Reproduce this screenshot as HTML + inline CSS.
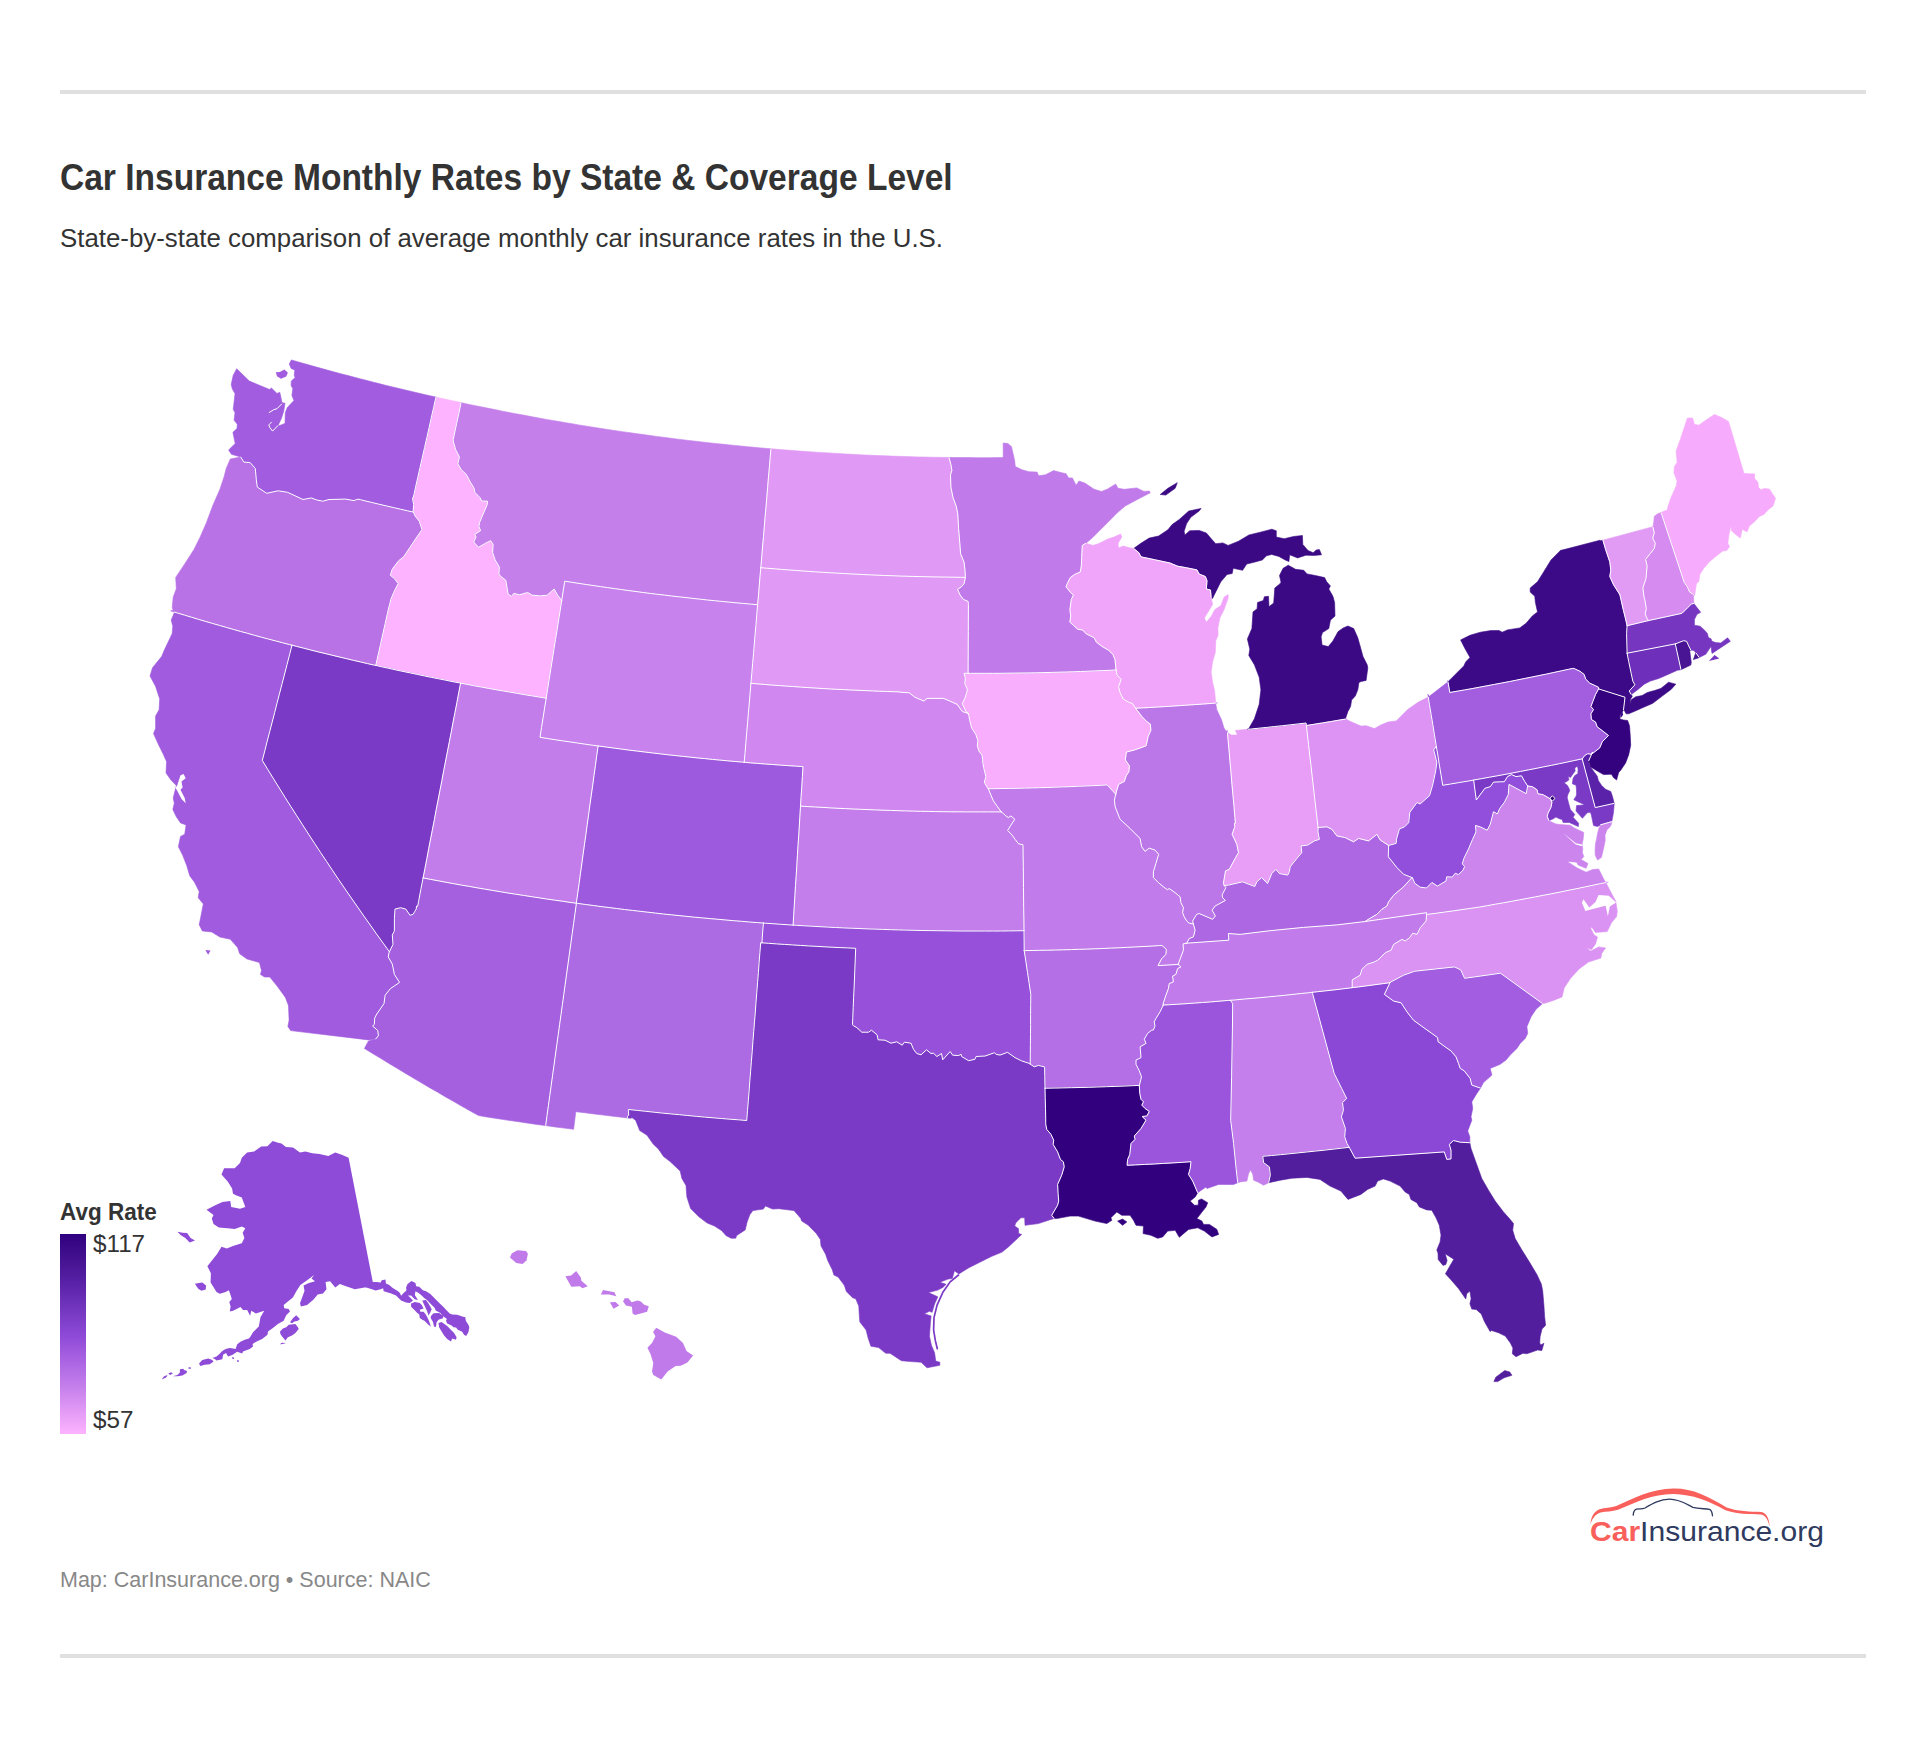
<!DOCTYPE html>
<html lang="en"><head><meta charset="utf-8"><title>Car Insurance Monthly Rates by State &amp; Coverage Level</title>
<style>
html,body{margin:0;padding:0;background:#fff;}
body{width:1926px;height:1738px;position:relative;overflow:hidden;font-family:"Liberation Sans",Arial,sans-serif;color:#333;}
.abs{position:absolute;white-space:nowrap;}
.rule{position:absolute;left:60px;width:1806px;height:4px;background:#e0e0e0;}
#title{left:60px;top:155.5px;font-size:36px;line-height:44px;font-weight:700;color:#333;transform:scaleX(0.9315);transform-origin:0 0;}
#sub{left:60px;top:220.5px;font-size:26px;line-height:34px;color:#333;transform:scaleX(0.9935);transform-origin:0 0;}
#legt{left:60px;top:1198px;font-size:23.5px;line-height:28px;font-weight:700;color:#333;transform:scaleX(0.957);transform-origin:0 0;}
.legl{font-size:23.5px;line-height:28px;color:#333;transform:scaleX(1.03);transform-origin:0 0;}
#foot{left:60px;top:1566px;font-size:21.5px;line-height:28px;color:#888;}
#logot{left:1590px;top:1514.2px;font-size:27.5px;line-height:36px;color:#2f3a5f;transform:scaleX(1.093);transform-origin:0 0;}
#logot b{color:#f9605c;font-weight:700;}
svg{position:absolute;left:0;top:0;}
</style></head><body>
<div class="rule" style="top:90px"></div>
<div class="abs" id="title">Car Insurance Monthly Rates by State &amp; Coverage Level</div>
<div class="abs" id="sub">State-by-state comparison of average monthly car insurance rates in the U.S.</div>
<svg width="1926" height="1738" viewBox="0 0 1926 1738">
<defs><linearGradient id="lg" x1="0" y1="0" x2="0" y2="1">
<stop offset="0" stop-color="#2f0080"/><stop offset="0.125" stop-color="#441290"/><stop offset="0.25" stop-color="#5a22a8"/>
<stop offset="0.375" stop-color="#7337bf"/><stop offset="0.5" stop-color="#8c48d6"/><stop offset="0.625" stop-color="#a862e2"/>
<stop offset="0.75" stop-color="#c27cea"/><stop offset="0.875" stop-color="#df98f4"/><stop offset="1" stop-color="#fdb3ff"/>
</linearGradient></defs>
<g><path d="M1312.3,992.3L1309.4,992.7L1301.2,993.5L1293.0,994.4L1284.8,995.3L1276.5,996.1L1268.3,996.9L1260.1,997.7L1251.9,998.4L1243.6,999.1L1235.4,999.9L1230.4,1000.3L1232.7,1003.7L1232.4,1030.1L1231.6,1076.8L1230.7,1120.2L1233.6,1143.5L1236.1,1168.5L1237.7,1182.7L1240.2,1181.9L1246.9,1181.1L1248.6,1173.5L1250.6,1169.9L1252.8,1174.4L1253.6,1180.2L1257.8,1181.9L1263.6,1185.2L1268.6,1182.7L1270.3,1175.2L1269.4,1166.9L1263.6,1162.7L1262.8,1156.5L1262.8,1156.3L1271.6,1155.5L1280.3,1154.7L1289.1,1153.8L1297.9,1152.9L1306.6,1152.0L1315.4,1151.1L1324.1,1150.2L1332.9,1149.2L1341.6,1148.2L1349.2,1147.3L1347.0,1143.5L1344.7,1136.8L1345.4,1128.5L1341.4,1116.8L1343.4,1110.2L1342.5,1102.6L1346.7,1098.5L1341.7,1088.5L1334.2,1073.4L1312.5,993.4L1312.3,992.5Z" fill="#c47fec" stroke="#c47fec" stroke-width="0.6"/>
<path d="M576.3,903.2L570.0,902.4L562.3,901.2L554.5,900.1L546.7,899.0L539.0,897.8L531.2,896.6L523.5,895.4L515.7,894.2L508.0,893.0L500.2,891.7L492.5,890.4L484.7,889.1L477.0,887.8L469.3,886.4L461.5,885.1L453.8,883.7L446.1,882.3L438.4,880.8L430.7,879.4L423.1,877.9L423.1,877.9L420.8,889.6L418.6,901.3L417.7,906.2L416.6,906.0L416.2,909.1L414.5,911.9L413.1,914.3L410.0,915.3L405.8,909.1L400.6,907.7L395.0,909.1L394.4,918.5L394.4,930.9L392.3,935.1L393.0,944.4L389.4,951.8L389.3,952.0L389.2,952.1L388.2,956.9L392.3,964.1L394.4,974.5L399.6,982.4L390.3,988.7L385.1,995.3L384.0,1003.6L376.8,1014.0L374.7,1018.1L374.3,1024.4L372.6,1026.0L377.8,1030.6L378.4,1035.8L375.7,1038.9L368.5,1041.0L365.3,1046.8L364.5,1048.5L372.5,1053.4L380.6,1058.3L388.6,1063.2L396.7,1068.1L404.8,1072.9L412.9,1077.8L421.0,1082.6L429.2,1087.4L437.4,1092.1L445.6,1096.9L453.8,1101.6L462.0,1106.3L470.3,1111.0L478.6,1115.6L487.0,1117.0L495.3,1118.3L503.7,1119.6L512.1,1120.8L520.5,1122.0L528.8,1123.3L537.2,1124.5L545.6,1125.6L547.0,1115.6L548.4,1105.5L549.8,1095.4L551.2,1085.3L552.6,1075.2L554.0,1065.1L555.4,1055.0L556.8,1044.9L558.2,1034.8L559.6,1024.7L561.0,1014.6L562.4,1004.5L563.8,994.4L565.2,984.3L566.6,974.1L568.0,964.0L569.4,953.9L570.8,943.8L572.2,933.6L573.6,923.5L575.0,913.4L576.4,903.2L576.4,903.2L576.3,903.2Z" fill="#a560e0" stroke="#a560e0" stroke-width="0.6"/>
<path d="M1163.1,1005.1L1163.4,1002.8L1165.9,995.3L1168.4,988.6L1169.2,983.6L1173.4,981.9L1172.6,976.1L1175.9,974.4L1177.6,968.6L1180.9,966.9L1178.1,964.4L1158.0,965.6L1161.7,958.6L1165.9,954.4L1166.4,949.4L1163.9,947.1L1162.0,945.5L1159.7,945.6L1157.7,945.7L1149.9,946.2L1142.0,946.6L1134.2,947.0L1126.3,947.4L1118.5,947.8L1110.6,948.1L1102.8,948.5L1094.9,948.8L1087.1,949.1L1079.2,949.3L1071.4,949.6L1063.5,949.8L1055.7,950.0L1047.8,950.2L1039.9,950.3L1032.1,950.5L1024.2,950.6L1025.9,961.6L1027.5,972.6L1029.2,983.6L1030.8,994.5L1030.7,1004.6L1030.6,1014.6L1030.6,1024.6L1030.5,1034.6L1030.4,1044.7L1030.3,1054.7L1030.2,1064.1L1030.5,1064.3L1034.2,1066.8L1038.4,1065.4L1044.2,1066.8L1044.4,1066.8L1044.6,1066.9L1044.6,1067.1L1044.8,1076.6L1045.0,1087.1L1045.0,1088.2L1053.8,1088.1L1062.6,1087.9L1071.3,1087.7L1080.1,1087.5L1088.9,1087.3L1097.6,1087.0L1106.4,1086.7L1115.1,1086.4L1123.9,1086.1L1132.7,1085.7L1139.3,1085.4L1139.5,1084.8L1141.5,1076.8L1139.3,1070.9L1136.0,1064.3L1136.0,1060.1L1141.0,1057.6L1140.1,1046.8L1146.0,1043.4L1144.3,1039.2L1147.6,1033.4L1151.8,1030.1L1153.4,1030.0L1155.0,1026.1L1154.2,1021.9L1155.9,1018.6L1160.0,1011.9L1162.9,1006.0L1163.0,1005.6Z" fill="#b56fe6" stroke="#b56fe6" stroke-width="0.6"/>
<path d="M292.0,645.2L289.7,644.6L282.6,642.8L275.6,640.9L268.5,639.1L261.5,637.2L254.5,635.3L247.5,633.3L240.4,631.4L233.4,629.4L226.4,627.4L219.4,625.4L212.4,623.4L205.4,621.4L198.4,619.3L191.5,617.2L184.5,615.1L177.5,613.0L174.0,611.9L174.3,612.7L171.2,620.0L172.8,626.2L172.2,633.5L163.9,651.1L161.8,656.3L152.5,667.8L150.0,676.1L155.6,686.4L159.7,698.9L159.1,709.7L155.6,716.0L155.6,728.4L153.5,733.6L158.7,745.0L162.8,753.3L166.6,761.7L166.0,773.1L171.2,780.3L176.3,785.5L173.2,798.0L174.3,803.2L172.8,809.4L176.3,816.7L180.5,822.9L186.1,825.0L184.7,834.3L180.5,836.4L178.4,846.8L182.6,855.1L186.7,865.5L189.8,875.9L194.4,882.1L199.2,891.5L198.2,897.7L203.3,903.9L201.3,914.3L199.2,924.7L202.3,930.9L211.7,932.0L220.0,937.1L230.3,939.2L237.6,947.5L239.7,953.8L247.0,959.0L259.4,962.5L261.5,970.4L260.5,974.5L264.6,977.0L269.8,977.0L277.1,986.0L285.4,997.4L288.5,1005.7L289.1,1020.2L287.9,1026.4L290.6,1030.6L368.5,1039.9L375.7,1038.9L378.4,1035.8L377.8,1030.6L372.6,1026.0L374.3,1024.4L374.7,1018.1L376.8,1014.0L384.0,1003.6L385.1,995.3L390.3,988.7L399.6,982.4L394.4,974.5L392.3,964.1L388.2,956.9L389.2,952.1L389.3,952.0L389.4,951.8L383.2,943.2L376.7,934.2L370.3,925.1L363.9,916.1L357.6,907.0L351.3,898.0L345.0,888.9L338.8,879.8L332.7,870.7L326.6,861.5L320.5,852.4L314.5,843.3L308.5,834.1L302.6,824.9L296.7,815.7L290.8,806.5L285.0,797.3L279.3,788.1L273.6,778.9L267.9,769.7L262.3,760.4L264.8,750.8L267.2,741.2L269.7,731.6L272.2,722.0L274.7,712.4L277.1,702.8L279.6,693.2L282.1,683.6L284.6,674.0L287.1,664.4L289.5,654.8L292.0,645.2Z" fill="#a05bde" stroke="#a05bde" stroke-width="0.6"/>
<path d="M744.2,762.3L742.6,762.1L735.1,761.5L727.5,760.8L720.0,760.1L712.5,759.4L704.9,758.6L697.4,757.9L689.9,757.1L682.4,756.3L674.9,755.5L667.3,754.7L659.8,753.8L652.3,752.9L644.8,752.0L637.3,751.1L629.8,750.2L622.3,749.2L614.8,748.2L607.3,747.2L599.8,746.2L598.1,746.0L598.1,746.0L596.7,755.8L595.4,765.6L594.0,775.4L592.7,785.3L591.3,795.1L589.9,804.9L588.6,814.7L587.2,824.6L585.9,834.4L584.5,844.2L583.1,854.1L581.8,863.9L580.4,873.7L579.1,883.6L577.7,893.4L576.3,903.2L576.3,903.2L576.4,903.2L577.8,903.4L585.6,904.5L593.4,905.5L601.2,906.6L608.9,907.5L616.7,908.5L624.5,909.5L632.3,910.4L640.1,911.3L647.9,912.2L655.7,913.1L663.5,914.0L671.3,914.8L679.1,915.6L686.9,916.4L694.7,917.2L702.6,917.9L710.4,918.6L718.2,919.3L726.0,920.0L733.8,920.7L741.6,921.3L749.5,922.0L757.3,922.6L763.4,923.0L765.1,923.2L772.9,923.7L780.8,924.3L788.6,924.8L793.1,925.1L793.7,915.2L794.3,905.3L794.9,895.4L795.5,885.4L796.2,875.5L796.8,865.6L797.4,855.7L798.0,845.8L798.7,835.9L799.3,826.0L799.9,816.1L800.5,806.2L800.5,806.1L800.5,806.1L801.1,796.3L801.8,786.4L802.4,776.5L803.0,766.6L802.9,766.6L795.4,766.1L787.9,765.6L780.3,765.1L772.8,764.5L765.2,764.0L757.7,763.4L750.1,762.8L744.2,762.3Z" fill="#9e5ade" stroke="#9e5ade" stroke-width="0.6"/>
<path d="M1675.3,643.9L1627.1,653.2L1628.7,661.5L1631.3,673.9L1632.8,681.1L1634.9,684.8L1629.2,691.0L1631.3,694.6L1638.0,689.4L1644.2,684.2L1650.4,681.1L1658.7,678.5L1668.0,674.4L1677.3,670.3L1681.0,669.7Z" fill="#6e30ba" stroke="#6e30ba" stroke-width="0.6"/>
<path d="M1582.4,758.8L1582.2,759.0L1595.2,807.6L1614.2,803.4L1612.5,796.6L1610.7,791.4L1605.6,789.3L1601.4,785.2L1598.3,780.4L1597.3,776.2L1590.7,767.2L1589.3,764.1L1588.8,760.6L1592.4,752.5L1591.3,754.3L1587.7,753.7L1584.6,755.6L1582.4,758.7Z" fill="#5a22a8" stroke="#5a22a8" stroke-width="0.6"/>
<path d="M1262.8,1156.5L1263.6,1162.7L1269.4,1166.9L1270.3,1175.2L1268.6,1182.7L1280.3,1180.2L1292.0,1178.2L1307.0,1177.4L1320.0,1179.4L1330.0,1186.1L1340.9,1191.1L1348.0,1199.4L1360.9,1194.4L1367.6,1189.4L1375.1,1186.1L1377.6,1181.1L1383.4,1178.9L1390.1,1181.1L1400.1,1186.1L1405.1,1191.9L1409.3,1194.4L1410.9,1199.4L1416.8,1202.7L1419.3,1206.9L1426.8,1209.9L1431.8,1210.3L1436.0,1217.8L1439.3,1225.3L1441.0,1235.3L1440.1,1241.9L1436.8,1249.9L1438.0,1253.2L1438.2,1259.5L1443.0,1265.4L1445.8,1264.6L1447.1,1260.5L1445.2,1253.8L1453.8,1259.2L1445.4,1273.8L1450.9,1279.7L1458.5,1288.6L1465.8,1299.0L1466.7,1293.7L1469.9,1291.1L1471.1,1298.7L1469.9,1303.8L1471.8,1309.1L1476.2,1309.5L1481.3,1313.9L1484.4,1321.5L1490.1,1331.6L1491.4,1330.4L1498.4,1332.7L1505.3,1336.1L1510.4,1343.0L1512.9,1348.1L1512.3,1353.8L1516.1,1356.7L1523.0,1353.2L1526.8,1353.8L1537.6,1350.0L1541.8,1350.6L1543.9,1343.3L1540.8,1344.9L1539.7,1343.0L1540.1,1336.7L1542.0,1329.1L1545.6,1325.3L1544.6,1316.5L1543.9,1305.1L1542.7,1291.1L1541.4,1284.2L1537.0,1274.7L1529.4,1262.0L1521.9,1250.0L1515.2,1238.6L1512.7,1230.3L1513.5,1223.6L1509.4,1218.6L1503.5,1211.9L1495.2,1201.1L1488.5,1190.2L1481.8,1178.6L1475.2,1160.2L1471.0,1148.5L1469.8,1142.7L1460.2,1142.2L1453.5,1140.5L1449.3,1144.4L1451.0,1150.2L1451.0,1158.9L1446.8,1159.4L1444.3,1151.9L1355.1,1158.2L1349.7,1148.2L1349.5,1147.7L1349.2,1147.3L1341.6,1148.2L1332.9,1149.2L1324.1,1150.2L1315.4,1151.1L1306.6,1152.0L1297.9,1152.9L1289.1,1153.8L1280.3,1154.7L1271.6,1155.5L1262.8,1156.3ZM1497.7,1381.6L1504.1,1377.8L1511.9,1375.3L1509.7,1371.9L1504.7,1370.6L1495.8,1377.2L1493.9,1381.6Z" fill="#521e9e" stroke="#521e9e" stroke-width="0.6"/>
<path d="M1352.2,987.7L1350.4,987.9L1342.2,988.9L1334.0,989.9L1325.8,990.8L1317.6,991.7L1312.3,992.3L1312.3,992.5L1312.5,993.4L1334.2,1073.4L1341.7,1088.5L1346.7,1098.5L1342.5,1102.6L1343.4,1110.2L1341.4,1116.8L1345.4,1128.5L1344.7,1136.8L1347.0,1143.5L1349.2,1147.3L1349.5,1147.7L1349.7,1148.2L1355.1,1158.2L1444.3,1151.9L1446.8,1159.4L1451.0,1158.9L1451.0,1150.2L1449.3,1144.4L1453.5,1140.5L1460.2,1142.2L1469.8,1142.7L1469.8,1136.8L1467.7,1131.0L1471.8,1120.2L1471.0,1116.8L1472.7,1108.5L1471.8,1101.8L1476.8,1093.5L1480.5,1088.1L1471.8,1085.1L1470.2,1078.5L1464.3,1070.9L1460.2,1068.4L1458.5,1063.4L1456.0,1056.8L1451.0,1050.9L1445.1,1046.8L1438.1,1041.7L1437.6,1037.6L1431.8,1033.4L1427.0,1030.0L1413.6,1020.3L1407.0,1011.9L1401.1,1002.8L1393.6,1001.1L1384.4,994.4L1390.0,982.7L1383.2,983.6L1375.0,984.7L1366.8,985.8L1358.6,986.9L1352.2,987.6Z" fill="#8b47d5" stroke="#8b47d5" stroke-width="0.6"/>
<path d="M453.2,441.0L453.2,439.7L453.2,439.7L454.4,434.0L456.6,423.5L458.9,413.1L461.1,402.6L461.1,402.6L456.4,401.6L450.0,400.2L443.6,398.8L437.2,397.4L436.0,397.1L436.0,397.1L433.7,407.2L431.4,417.2L429.2,427.3L426.9,437.4L424.6,447.4L422.3,457.5L420.0,467.6L417.7,477.8L415.4,487.9L414.2,493.5L413.1,498.0L412.6,497.9L412.5,498.5L413.7,504.7L413.1,511.6L413.4,512.1L413.8,513.2L415.2,516.1L419.3,521.3L422.0,529.6L416.2,538.0L410.0,547.3L403.8,556.6L398.6,560.8L392.3,569.1L390.3,575.3L394.4,578.5L398.2,583.6L394.4,590.9L393.6,592.7L390.9,599.2L389.2,606.5L389.0,606.4L387.5,613.1L385.2,623.5L382.8,634.0L380.5,644.5L378.1,655.0L375.8,665.4L381.7,666.8L388.8,668.3L395.9,669.9L403.0,671.4L410.2,672.9L417.3,674.4L424.4,675.9L431.6,677.4L438.7,678.8L445.8,680.2L453.0,681.7L460.1,683.0L460.6,683.1L467.3,684.4L474.4,685.8L481.6,687.1L488.8,688.4L495.9,689.7L503.1,690.9L510.3,692.2L517.5,693.4L524.6,694.7L531.8,695.8L539.0,697.0L546.2,698.2L547.7,688.4L549.3,678.6L550.8,668.9L552.4,659.1L553.9,649.3L555.5,639.6L557.1,629.8L558.6,620.1L560.2,610.3L561.7,600.6L561.7,600.5L561.7,600.5L557.6,595.2L554.1,589.0L547.2,595.2L540.3,595.9L532.2,595.2L527.6,592.5L519.6,594.8L513.8,593.4L511.5,596.4L508.1,594.1L505.8,580.3L500.0,575.7L498.9,573.9L499.3,567.0L495.1,559.8L492.6,552.5L493.1,544.2L490.6,540.7L485.8,543.1L478.5,547.3L473.7,542.1L476.0,536.9L474.8,534.4L480.6,530.7L478.9,526.5L479.6,522.4L482.7,515.1L487.2,504.7L487.5,501.2L481.6,501.0L480.2,497.9L474.8,492.3L474.0,488.1L470.2,481.9L466.1,474.2L461.5,470.0L457.8,463.8L459.4,457.0L455.7,449.7L454.0,444.0Z" fill="#fdb3ff" stroke="#fdb3ff" stroke-width="0.6"/>
<path d="M1217.4,702.9L1215.7,703.1L1209.9,703.5L1202.4,704.1L1194.9,704.6L1187.3,705.1L1179.8,705.6L1172.3,706.1L1164.8,706.6L1157.2,707.0L1149.7,707.5L1142.2,707.9L1135.6,708.2L1135.7,708.4L1142.0,716.7L1147.1,721.9L1150.3,724.0L1150.9,730.2L1148.2,736.4L1146.1,745.8L1134.7,749.9L1126.4,752.0L1125.3,759.9L1129.4,765.9L1128.9,771.7L1126.1,775.9L1124.4,781.4L1118.6,784.3L1116.9,790.1L1115.7,794.3L1114.4,800.1L1115.2,806.8L1119.4,817.6L1120.0,819.2L1130.0,828.4L1140.0,838.4L1141.7,846.8L1145.0,851.4L1149.2,848.1L1155.0,850.1L1158.7,854.3L1155.9,863.5L1153.4,871.8L1153.4,877.6L1158.4,882.6L1163.4,886.8L1167.5,889.8L1169.2,888.5L1175.1,892.7L1180.1,896.8L1180.9,902.7L1183.4,907.7L1182.6,912.7L1184.2,916.8L1186.7,921.0L1189.2,923.2L1193.4,924.0L1192.6,921.0L1196.7,914.3L1199.2,913.5L1212.6,919.3L1215.4,916.0L1212.1,910.2L1215.1,906.0L1225.4,900.5L1222.6,897.7L1222.1,894.8L1225.9,887.6L1224.3,885.5L1223.4,883.5L1225.1,873.5L1225.4,871.0L1229.3,869.3L1235.1,858.5L1238.5,852.6L1236.8,844.3L1232.1,834.3L1234.4,827.8L1234.8,826.8L1234.4,823.4L1235.4,823.3L1234.9,817.5L1234.0,806.6L1233.0,795.7L1232.0,784.8L1231.1,773.9L1230.1,763.0L1229.2,752.1L1228.2,741.3L1227.5,732.6L1227.3,730.4L1226.2,731.2L1224.0,728.1L1221.5,719.8L1216.7,709.4L1215.7,703.2L1215.7,703.1Z" fill="#bb76e8" stroke="#bb76e8" stroke-width="0.6"/>
<path d="M1235.3,730.5L1237.4,734.5L1236.3,735.0L1231.2,735.0L1227.5,732.6L1228.2,741.3L1229.2,752.1L1230.1,763.0L1231.1,773.9L1232.0,784.8L1233.0,795.7L1234.0,806.6L1234.9,817.5L1235.4,823.3L1234.4,823.4L1234.8,826.8L1234.4,827.8L1232.1,834.3L1236.8,844.3L1238.5,852.6L1235.1,858.5L1229.3,869.3L1225.4,871.0L1225.1,873.5L1223.4,883.5L1224.3,885.5L1228.4,885.1L1242.6,881.8L1254.8,886.5L1256.8,881.8L1261.5,877.6L1267.6,883.5L1271.8,873.5L1276.0,869.3L1279.3,873.5L1287.7,875.1L1289.3,871.8L1290.2,866.8L1296.8,858.5L1301.8,852.6L1301.0,845.9L1307.7,845.1L1314.4,840.9L1319.4,839.3L1318.5,835.1L1317.7,829.9L1318.3,829.8L1318.0,827.5L1317.1,819.1L1315.8,808.4L1314.6,797.7L1313.4,787.0L1312.2,776.4L1311.0,765.7L1309.7,755.0L1308.5,744.3L1307.3,733.7L1306.4,725.5L1306.1,723.0L1298.2,723.9L1290.4,724.8L1282.5,725.7L1274.6,726.5L1266.8,727.4L1258.9,728.2L1251.1,729.0L1247.4,729.3L1243.2,729.7Z" fill="#e89ef7" stroke="#e89ef7" stroke-width="0.6"/>
<path d="M968.1,673.3L964.0,673.3L964.0,673.3L965.4,678.3L964.8,683.5L967.5,689.7L965.4,697.0L962.3,703.6L966.0,711.5L968.5,713.6L969.6,719.8L971.7,728.1L975.8,734.4L977.9,740.6L977.3,745.8L978.9,751.0L982.0,755.1L982.7,759.9L982.9,763.4L984.3,770.1L985.9,776.7L984.3,782.1L986.8,786.8L987.8,788.0L988.3,788.7L994.4,788.7L1001.9,788.5L1009.5,788.4L1017.0,788.3L1024.6,788.1L1032.1,787.9L1039.7,787.7L1047.2,787.5L1054.8,787.2L1062.3,786.9L1069.9,786.7L1077.4,786.3L1084.9,786.0L1092.5,785.7L1100.0,785.3L1106.9,784.9L1106.9,785.1L1107.4,785.3L1107.7,785.4L1111.9,790.1L1115.7,794.3L1116.9,790.1L1118.6,784.3L1124.4,781.4L1126.1,775.9L1128.9,771.7L1129.4,765.9L1125.3,759.9L1126.4,752.0L1134.7,749.9L1146.1,745.8L1148.2,736.4L1150.9,730.2L1150.3,724.0L1147.1,721.9L1142.0,716.7L1135.7,708.4L1135.6,708.2L1135.3,707.8L1132.6,703.6L1128.5,702.2L1123.3,699.1L1120.1,692.8L1118.5,686.6L1121.2,679.3L1117.0,675.2L1116.1,670.1L1116.1,669.9L1109.8,670.3L1102.5,670.6L1095.2,670.9L1087.9,671.2L1080.5,671.5L1073.2,671.8L1065.9,672.0L1058.6,672.2L1051.2,672.4L1043.9,672.6L1036.6,672.8L1029.3,672.9L1021.9,673.0L1014.6,673.1L1007.3,673.2L1000.0,673.3L992.6,673.3L985.3,673.3L978.0,673.3L970.7,673.3L968.1,673.3Z" fill="#f8adfd" stroke="#f8adfd" stroke-width="0.6"/>
<path d="M793.1,925.1L793.1,925.1L796.4,925.3L804.3,925.8L812.1,926.2L820.0,926.7L827.8,927.1L835.6,927.5L843.5,927.9L851.3,928.2L859.2,928.5L867.0,928.9L874.8,929.1L882.7,929.4L890.5,929.7L898.4,929.9L906.2,930.1L914.1,930.3L921.9,930.5L929.8,930.6L937.6,930.7L945.5,930.8L953.3,930.9L961.2,931.0L969.0,931.0L976.9,931.0L984.7,931.0L992.5,931.0L1000.4,931.0L1008.2,930.9L1016.1,930.8L1023.9,930.7L1024.0,930.7L1024.0,929.6L1023.9,919.0L1023.7,908.5L1023.6,898.0L1023.5,887.5L1023.4,876.9L1023.3,866.4L1023.1,855.9L1023.0,845.5L1023.0,845.4L1023.3,845.0L1023.1,844.8L1018.5,843.8L1015.1,839.3L1011.4,834.3L1007.6,830.5L1010.9,825.1L1014.8,819.3L1010.9,815.9L1008.4,817.6L1005.9,815.9L1002.5,812.8L1001.4,811.9L995.8,811.9L988.3,811.9L980.8,811.9L973.2,811.9L965.7,811.9L958.2,811.8L950.7,811.8L943.2,811.7L935.7,811.6L928.1,811.4L920.6,811.3L913.1,811.1L905.6,810.9L898.1,810.7L890.6,810.4L883.0,810.2L875.5,809.9L868.0,809.6L860.5,809.3L853.0,809.0L845.5,808.6L838.0,808.3L830.5,807.9L823.0,807.4L815.5,807.0L808.0,806.6L800.5,806.1L800.5,806.2L799.9,816.1L799.3,826.0L798.7,835.9L798.0,845.8L797.4,855.7L796.8,865.6L796.2,875.5L795.5,885.4L794.9,895.4L794.3,905.3L793.7,915.2Z" fill="#c47eec" stroke="#c47eec" stroke-width="0.6"/>
<path d="M1318.0,827.5L1318.3,829.8L1317.7,829.9L1318.5,835.1L1319.4,839.3L1314.4,840.9L1307.7,845.1L1301.0,845.9L1301.8,852.6L1296.8,858.5L1290.2,866.8L1289.3,871.8L1287.7,875.1L1279.3,873.5L1276.0,869.3L1271.8,873.5L1267.6,883.5L1261.5,877.6L1256.8,881.8L1254.8,886.5L1242.6,881.8L1228.4,885.1L1224.3,885.5L1225.9,887.6L1222.1,894.8L1222.6,897.7L1225.4,900.5L1215.1,906.0L1212.1,910.2L1215.4,916.0L1212.6,919.3L1199.2,913.5L1196.7,914.3L1192.6,921.0L1193.4,924.0L1195.1,930.2L1193.4,936.9L1189.2,938.5L1186.7,943.2L1228.8,940.2L1228.4,933.5L1240.1,934.4L1270.2,930.7L1303.5,927.4L1336.9,924.9L1365.2,921.5L1366.9,920.2L1376.9,914.3L1381.9,909.3L1386.9,906.0L1388.6,901.8L1393.6,895.2L1403.6,886.8L1412.0,877.6L1403.6,874.3L1396.9,867.6L1388.3,856.8L1388.6,845.4L1380.3,840.1L1376.9,834.3L1368.6,840.9L1358.6,838.4L1353.6,841.8L1345.2,837.6L1336.9,835.9L1331.9,829.3L1326.9,826.8Z" fill="#ad67e2" stroke="#ad67e2" stroke-width="0.6"/>
<path d="M1045.2,1097.7L1045.5,1108.2L1045.7,1118.8L1045.7,1122.7L1045.8,1124.7L1046.7,1129.1L1046.7,1129.3L1050.9,1134.3L1053.7,1140.2L1053.1,1144.4L1057.6,1151.9L1060.4,1159.4L1063.4,1161.9L1064.2,1166.9L1061.7,1175.2L1057.6,1184.4L1058.1,1193.6L1058.7,1201.1L1057.6,1205.2L1051.7,1215.3L1054.2,1218.6L1056.7,1218.6L1070.1,1216.1L1078.4,1216.1L1086.8,1218.6L1095.1,1221.1L1106.8,1223.6L1111.8,1220.3L1110.9,1217.8L1116.8,1211.9L1121.8,1215.3L1130.1,1215.3L1133.5,1220.3L1136.0,1225.3L1143.5,1226.1L1143.1,1233.6L1151.0,1235.3L1157.7,1238.3L1162.7,1236.9L1167.7,1231.1L1175.2,1230.3L1179.3,1237.3L1188.5,1229.4L1197.7,1227.8L1204.4,1231.1L1211.9,1236.9L1218.6,1234.4L1216.9,1229.4L1209.4,1224.4L1203.5,1224.4L1201.9,1221.1L1196.9,1218.6L1202.7,1211.1L1206.0,1206.9L1207.7,1202.7L1201.5,1198.9L1198.5,1200.2L1198.2,1205.2L1194.4,1205.2L1190.2,1201.1L1195.2,1196.9L1197.7,1192.7L1195.2,1186.9L1192.7,1181.1L1188.5,1174.4L1190.2,1168.5L1191.0,1161.7L1182.4,1162.3L1173.0,1162.9L1163.6,1163.4L1154.2,1164.0L1144.8,1164.4L1135.4,1164.9L1127.1,1165.3L1127.1,1165.2L1127.6,1159.4L1129.8,1154.4L1131.0,1143.5L1135.1,1139.3L1134.3,1136.0L1141.0,1128.5L1146.0,1120.2L1142.1,1116.5L1146.8,1116.0L1149.3,1111.5L1145.1,1108.5L1141.8,1105.1L1143.5,1101.8L1141.0,1099.3L1139.8,1093.5L1139.3,1085.5L1139.3,1085.4L1132.7,1085.7L1123.9,1086.1L1115.1,1086.4L1106.4,1086.7L1097.6,1087.0L1088.9,1087.3L1080.1,1087.5L1071.3,1087.7L1062.6,1087.9L1053.8,1088.1L1045.0,1088.2ZM1126.8,1221.9L1122.6,1219.1L1117.6,1221.1L1122.6,1225.3Z" fill="#32007e" stroke="#32007e" stroke-width="0.6"/>
<path d="M1694.7,595.1L1695.7,588.8L1696.4,583.7L1698.8,581.6L1699.9,574.3L1704.0,568.1L1709.2,561.9L1715.4,556.7L1722.7,551.1L1726.8,550.5L1729.5,546.4L1727.8,543.3L1728.9,535.0L1730.9,525.7L1731.6,530.8L1735.1,534.0L1740.3,538.1L1742.3,529.2L1746.9,531.9L1749.6,525.7L1754.8,521.5L1758.9,516.8L1764.1,514.3L1768.2,509.7L1773.0,506.0L1775.5,498.3L1769.3,489.0L1764.1,488.4L1761.0,489.8L1758.5,487.3L1757.9,482.2L1754.3,478.0L1754.8,473.9L1744.0,473.5L1728.5,421.5L1721.6,417.5L1714.4,414.4L1706.1,420.0L1698.8,425.2L1694.3,424.2L1692.6,418.0L1687.4,418.0L1680.2,439.7L1676.1,451.1L1677.1,462.5L1674.4,466.6L1674.0,472.9L1677.1,481.1L1676.1,486.3L1670.9,497.7L1667.8,507.0L1667.4,510.1L1663.6,511.2L1661.1,512.6L1684.3,582.6L1687.4,586.8L1689.5,591.9L1692.6,594.0Z" fill="#f7abfc" stroke="#f7abfc" stroke-width="0.6"/>
<path d="M1473.6,780.1L1476.3,800.0L1484.9,788.3L1490.3,786.7L1493.5,782.1L1504.4,781.7L1507.5,776.6L1511.4,774.6L1516.0,776.6L1521.5,775.8L1524.6,781.3L1527.7,786.0L1532.4,786.7L1537.1,789.8L1537.9,793.7L1543.3,794.8L1550.2,798.8L1549.8,798.4L1552.3,795.8L1555.0,798.4L1552.3,801.2L1550.4,799.0L1551.9,802.3L1551.1,807.0L1548.0,813.2L1547.2,816.3L1548.8,820.7L1553.4,818.7L1555.8,817.1L1560.0,819.0L1562.1,819.4L1563.1,822.5L1569.3,822.5L1578.3,826.6L1578.6,823.2L1573.1,817.3L1574.8,814.5L1570.4,809.4L1568.3,802.1L1567.2,797.6L1567.9,794.5L1569.8,790.4L1568.6,787.6L1567.2,785.2L1564.1,782.8L1566.9,781.4L1569.0,779.7L1568.1,776.2L1570.4,777.6L1571.4,776.2L1573.1,773.8L1575.2,771.0L1574.8,767.9L1577.3,766.2L1578.1,769.0L1577.8,773.8L1574.8,775.5L1573.1,778.3L1572.3,783.8L1576.0,785.2L1576.4,789.0L1576.6,793.8L1576.2,795.9L1573.8,799.7L1578.6,802.1L1583.5,804.2L1583.8,804.9L1576.6,805.6L1576.0,811.1L1582.4,818.3L1587.3,812.8L1590.4,812.3L1591.4,815.2L1593.5,825.6L1597.6,826.6L1600.4,824.9L1611.8,821.6L1613.5,812.5L1614.2,803.4L1595.2,807.6L1582.2,759.0L1582.4,758.8L1574.8,760.4L1567.1,762.1L1559.3,763.7L1551.6,765.3L1543.8,766.8L1536.1,768.4L1528.3,769.9L1520.6,771.4L1512.8,772.9L1505.0,774.4L1497.3,775.8L1489.5,777.2L1481.7,778.6L1473.9,780.0L1473.6,780.1Z" fill="#7a3ac6" stroke="#7a3ac6" stroke-width="0.6"/>
<path d="M1648.4,620.6L1627.1,625.7L1626.6,633.5L1627.1,653.2L1675.3,643.9L1683.6,640.7L1686.7,641.3L1688.7,645.9L1690.8,650.1L1693.9,650.6L1696.0,653.0L1699.1,657.3L1700.7,656.8L1705.8,654.2L1707.9,651.1L1711.0,646.4L1712.0,653.4L1730.4,641.3L1727.6,637.8L1720.8,643.0L1715.7,642.6L1712.0,641.3L1711.0,638.7L1708.4,637.6L1707.4,633.5L1704.3,629.9L1700.1,626.2L1694.4,625.2L1694.4,619.5L1697.0,614.3L1700.7,612.3L1697.0,607.6L1693.9,603.5L1691.3,604.0L1687.7,607.6L1684.6,610.7L1682.0,613.3Z" fill="#7636c0" stroke="#7636c0" stroke-width="0.6"/>
<path d="M1165.8,495.1L1175.2,488.3L1177.3,482.7L1167.9,488.3L1160.2,494.5ZM1140.9,556.8L1155.5,559.9L1170.0,563.0L1177.3,566.1L1186.6,567.8L1197.0,569.9L1199.1,574.0L1205.3,576.5L1207.0,580.7L1206.3,589.0L1210.5,590.0L1211.1,597.3L1212.5,598.4L1218.7,585.9L1220.8,581.8L1227.0,574.5L1232.2,573.5L1233.2,568.3L1242.6,570.3L1246.7,564.1L1255.0,562.0L1262.3,560.0L1266.5,555.8L1271.7,554.4L1278.9,556.4L1285.2,560.0L1288.9,561.6L1289.7,554.8L1297.6,557.9L1305.9,555.2L1314.2,555.4L1321.5,554.8L1319.4,549.6L1316.3,550.0L1313.2,552.7L1308.0,550.6L1302.8,544.4L1302.4,535.5L1293.5,536.5L1284.2,538.7L1276.3,537.1L1276.3,530.8L1271.8,529.2L1261.4,531.9L1248.9,535.0L1238.5,541.2L1228.1,545.4L1222.9,542.9L1215.7,543.7L1211.5,539.1L1206.3,532.9L1199.1,530.4L1189.7,530.8L1184.9,535.0L1184.1,531.3L1186.6,523.6L1190.8,517.3L1199.1,511.1L1201.1,508.4L1188.7,511.1L1179.3,519.4L1172.1,524.6L1167.9,529.8L1158.6,536.0L1149.2,538.1L1140.9,543.3L1133.6,548.5L1138.8,552.6ZM1258.9,728.2L1266.8,727.4L1274.6,726.5L1282.5,725.7L1290.4,724.8L1298.2,723.9L1306.1,723.0L1306.4,725.5L1306.4,725.5L1314.5,724.2L1322.6,722.9L1330.6,721.6L1338.7,720.2L1345.8,719.0L1345.4,718.8L1347.9,711.6L1350.6,706.4L1351.6,700.1L1355.3,696.0L1357.8,689.8L1358.9,682.5L1361.0,681.5L1366.1,680.4L1367.8,668.0L1367.2,664.8L1363.0,656.5L1357.8,637.8L1353.7,628.5L1347.9,626.0L1343.3,627.9L1338.1,631.6L1332.9,641.0L1328.3,646.6L1322.1,645.1L1321.1,636.8L1322.5,632.6L1328.8,628.5L1329.2,626.4L1330.4,620.2L1335.0,616.0L1334.6,602.5L1332.9,596.3L1328.8,589.0L1330.4,585.9L1326.7,581.8L1324.6,577.6L1315.3,575.5L1307.0,573.9L1303.8,570.3L1295.5,569.3L1288.3,565.2L1283.1,568.3L1279.5,575.5L1281.0,582.2L1280.0,583.8L1274.8,588.0L1273.7,602.9L1269.0,606.7L1268.5,596.3L1264.4,596.7L1263.3,600.5L1257.5,602.5L1257.1,608.8L1253.0,611.9L1251.9,628.5L1247.4,638.9L1249.8,649.3L1248.8,655.5L1254.4,664.8L1259.2,677.3L1260.9,689.8L1259.2,704.3L1254.4,718.8L1248.8,728.6L1247.4,729.3L1251.1,729.0Z" fill="#3b0984" stroke="#3b0984" stroke-width="0.6"/>
<path d="M996.5,457.6L989.9,457.7L983.4,457.7L976.8,457.7L970.3,457.6L963.7,457.6L957.2,457.6L950.6,457.5L948.9,457.5L950.9,464.4L951.9,470.6L950.5,474.8L950.9,487.2L953.0,497.6L956.1,505.9L957.7,513.2L958.6,528.8L959.8,543.3L960.6,553.7L964.0,562.0L965.0,570.3L965.4,577.4L965.4,577.5L965.4,577.6L964.0,583.8L961.3,586.9L957.5,589.4L960.2,595.2L963.3,599.4L968.0,601.4L968.1,601.5L968.4,603.6L968.4,604.6L968.4,610.8L968.3,621.2L968.3,631.6L968.2,642.0L968.2,652.4L968.1,662.9L968.1,673.3L968.1,673.3L970.7,673.3L978.0,673.3L985.3,673.3L992.6,673.3L1000.0,673.3L1007.3,673.2L1014.6,673.1L1021.9,673.0L1029.3,672.9L1036.6,672.8L1043.9,672.6L1051.2,672.4L1058.6,672.2L1065.9,672.0L1073.2,671.8L1080.5,671.5L1087.9,671.2L1095.2,670.9L1102.5,670.6L1109.8,670.3L1116.1,669.9L1116.0,669.6L1115.0,659.6L1112.9,654.4L1108.7,650.3L1101.5,646.1L1096.3,642.0L1094.2,637.8L1085.9,633.6L1082.8,630.1L1077.6,629.1L1073.4,625.3L1069.9,622.2L1070.7,616.0L1069.9,609.8L1071.3,599.4L1073.4,595.2L1070.3,592.1L1066.1,586.9L1067.2,583.8L1070.3,577.6L1074.5,574.5L1080.3,572.0L1081.3,566.1L1081.7,557.8L1082.3,545.4L1085.9,543.3L1092.1,538.1L1099.4,530.8L1107.7,522.5L1118.1,512.1L1125.3,505.9L1138.8,498.7L1150.3,492.8L1149.2,491.0L1144.0,491.4L1136.8,487.9L1124.3,489.3L1118.1,488.3L1115.6,484.1L1107.7,488.9L1101.5,491.4L1094.2,489.3L1084.8,483.1L1079.0,481.0L1076.1,485.2L1072.4,477.9L1068.6,477.9L1066.1,473.7L1059.9,472.3L1053.7,470.6L1045.4,474.8L1038.7,475.8L1037.1,472.1L1028.8,471.7L1021.5,469.6L1015.3,466.5L1014.6,460.2L1011.5,446.7L1008.0,443.6L1003.2,443.0L1003.2,457.6L1003.1,457.6Z" fill="#c07ae9" stroke="#c07ae9" stroke-width="0.6"/>
<path d="M1139.3,1085.5L1139.8,1093.5L1141.0,1099.3L1143.5,1101.8L1141.8,1105.1L1145.1,1108.5L1149.3,1111.5L1146.8,1116.0L1142.1,1116.5L1146.0,1120.2L1141.0,1128.5L1134.3,1136.0L1135.1,1139.3L1131.0,1143.5L1129.8,1154.4L1127.6,1159.4L1127.1,1165.2L1127.1,1165.3L1135.4,1164.9L1144.8,1164.4L1154.2,1164.0L1163.6,1163.4L1173.0,1162.9L1182.4,1162.3L1191.0,1161.7L1190.2,1168.5L1188.5,1174.4L1192.7,1181.1L1195.2,1186.9L1197.7,1192.7L1206.0,1186.9L1206.9,1188.6L1218.6,1184.4L1233.6,1184.4L1237.7,1182.7L1236.1,1168.5L1233.6,1143.5L1230.7,1120.2L1231.6,1076.8L1232.4,1030.1L1232.7,1003.7L1230.4,1000.3L1230.3,1000.3L1227.2,1000.5L1219.0,1001.2L1210.7,1001.9L1202.5,1002.5L1194.2,1003.1L1186.0,1003.7L1177.8,1004.2L1169.5,1004.7L1163.1,1005.1L1163.0,1005.6L1162.9,1006.0L1160.0,1011.9L1155.9,1018.6L1154.2,1021.9L1155.0,1026.1L1153.4,1030.0L1151.8,1030.1L1147.6,1033.4L1144.3,1039.2L1146.0,1043.4L1140.1,1046.8L1141.0,1057.6L1136.0,1060.1L1136.0,1064.3L1139.3,1070.9L1141.5,1076.8L1139.5,1084.8L1139.3,1085.4Z" fill="#9a55dc" stroke="#9a55dc" stroke-width="0.6"/>
<path d="M1002.5,812.8L1005.9,815.9L1008.4,817.6L1010.9,815.9L1014.8,819.3L1010.9,825.1L1007.6,830.5L1011.4,834.3L1015.1,839.3L1018.5,843.8L1023.1,844.8L1023.3,845.0L1023.0,845.4L1023.0,845.5L1023.1,855.9L1023.3,866.4L1023.4,876.9L1023.5,887.5L1023.6,898.0L1023.7,908.5L1023.9,919.0L1024.0,929.6L1024.0,930.7L1024.1,940.1L1024.2,950.6L1032.1,950.5L1039.9,950.3L1047.8,950.2L1055.7,950.0L1063.5,949.8L1071.4,949.6L1079.2,949.3L1087.1,949.1L1094.9,948.8L1102.8,948.5L1110.6,948.1L1118.5,947.8L1126.3,947.4L1134.2,947.0L1142.0,946.6L1149.9,946.2L1157.7,945.7L1159.7,945.6L1162.0,945.5L1163.9,947.1L1166.4,949.4L1165.9,954.4L1161.7,958.6L1158.0,965.6L1178.1,964.4L1180.9,956.9L1183.4,950.2L1183.1,943.9L1186.7,943.2L1189.2,938.5L1193.4,936.9L1195.1,930.2L1193.4,924.0L1189.2,923.2L1186.7,921.0L1184.2,916.8L1182.6,912.7L1183.4,907.7L1180.9,902.7L1180.1,896.8L1175.1,892.7L1169.2,888.5L1167.5,889.8L1163.4,886.8L1158.4,882.6L1153.4,877.6L1153.4,871.8L1155.9,863.5L1158.7,854.3L1155.0,850.1L1149.2,848.1L1145.0,851.4L1141.7,846.8L1140.0,838.4L1130.0,828.4L1120.0,819.2L1119.4,817.6L1115.2,806.8L1114.4,800.1L1115.7,794.3L1111.9,790.1L1107.7,785.4L1107.4,785.3L1106.9,785.1L1106.9,784.9L1100.0,785.3L1092.5,785.7L1084.9,786.0L1077.4,786.3L1069.9,786.7L1062.3,786.9L1054.8,787.2L1047.2,787.5L1039.7,787.7L1032.1,787.9L1024.6,788.1L1017.0,788.3L1009.5,788.4L1001.9,788.5L994.4,788.7L988.3,788.7L988.4,788.9L990.9,795.1L993.4,800.9L997.6,806.8L1000.9,811.4L1001.4,811.9Z" fill="#c17bea" stroke="#c17bea" stroke-width="0.6"/>
<path d="M770.9,448.8L767.3,448.5L760.8,447.9L754.3,447.3L747.7,446.7L741.2,446.1L734.7,445.4L728.2,444.8L721.7,444.1L715.1,443.4L708.6,442.7L702.1,442.0L695.6,441.2L689.1,440.5L682.6,439.7L676.1,438.9L669.6,438.1L663.1,437.2L656.6,436.4L650.1,435.5L643.6,434.6L637.1,433.7L630.6,432.8L624.1,431.9L617.6,430.9L611.1,430.0L604.6,429.0L598.2,428.0L591.7,427.0L585.2,425.9L578.7,424.9L572.3,423.8L565.8,422.7L559.3,421.6L552.9,420.5L546.4,419.4L540.0,418.2L533.5,417.0L527.1,415.8L520.6,414.6L514.2,413.4L507.8,412.2L501.3,410.9L494.9,409.6L488.5,408.3L482.1,407.0L475.6,405.7L469.2,404.4L462.8,403.0L461.1,402.6L461.1,402.6L458.9,413.1L456.6,423.5L454.4,434.0L453.2,439.7L453.2,439.7L453.2,441.0L454.0,444.0L455.7,449.7L459.4,457.0L457.8,463.8L461.5,470.0L466.1,474.2L470.2,481.9L474.0,488.1L474.8,492.3L480.2,497.9L481.6,501.0L487.5,501.2L487.2,504.7L482.7,515.1L479.6,522.4L478.9,526.5L480.6,530.7L474.8,534.4L476.0,536.9L473.7,542.1L478.5,547.3L485.8,543.1L490.6,540.7L493.1,544.2L492.6,552.5L495.1,559.8L499.3,567.0L498.9,573.9L500.0,575.7L505.8,580.3L508.1,594.1L511.5,596.4L513.8,593.4L519.6,594.8L527.6,592.5L532.2,595.2L540.3,595.9L547.2,595.2L554.1,589.0L557.6,595.2L561.7,600.5L561.7,600.5L563.2,590.9L564.8,581.2L571.9,582.3L579.0,583.4L586.1,584.5L593.2,585.5L600.4,586.6L607.5,587.6L614.6,588.6L621.7,589.6L628.8,590.6L636.0,591.5L643.1,592.5L650.2,593.4L657.4,594.3L664.5,595.1L671.7,596.0L678.8,596.8L686.0,597.6L693.1,598.4L700.3,599.2L707.4,600.0L714.6,600.7L721.7,601.4L728.9,602.1L736.0,602.8L743.2,603.4L750.4,604.1L757.5,604.7L757.6,604.7L757.6,604.7L758.5,594.9L759.3,585.1L760.1,575.3L760.8,567.7L761.0,565.5L761.8,555.8L762.6,546.0L763.5,536.2L764.3,526.5L765.1,516.7L766.0,507.0L766.8,497.3L767.6,487.5L768.4,477.8L769.3,468.1L770.1,458.5L770.9,448.8Z" fill="#c47feb" stroke="#c47feb" stroke-width="0.6"/>
<path d="M750.1,762.8L757.7,763.4L765.2,764.0L772.8,764.5L780.3,765.1L787.9,765.6L795.4,766.1L802.9,766.6L803.0,766.6L802.4,776.5L801.8,786.4L801.1,796.3L800.5,806.1L800.5,806.1L808.0,806.6L815.5,807.0L823.0,807.4L830.5,807.9L838.0,808.3L845.5,808.6L853.0,809.0L860.5,809.3L868.0,809.6L875.5,809.9L883.0,810.2L890.6,810.4L898.1,810.7L905.6,810.9L913.1,811.1L920.6,811.3L928.1,811.4L935.7,811.6L943.2,811.7L950.7,811.8L958.2,811.8L965.7,811.9L973.2,811.9L980.8,811.9L988.3,811.9L995.8,811.9L1001.4,811.9L1000.9,811.4L997.6,806.8L993.4,800.9L990.9,795.1L988.4,788.9L988.3,788.7L987.8,788.0L986.8,786.8L984.3,782.1L985.9,776.7L984.3,770.1L982.9,763.4L982.7,759.9L982.0,755.1L978.9,751.0L977.3,745.8L977.9,740.6L975.8,734.4L971.7,728.1L969.6,719.8L968.5,713.6L962.3,711.5L957.1,704.3L949.8,701.1L943.6,698.4L927.0,698.4L923.9,701.1L914.5,697.0L909.3,692.8L908.0,692.7L900.0,692.2L900.0,691.9L893.7,691.7L886.6,691.5L879.4,691.2L872.3,690.9L865.1,690.6L858.0,690.3L850.8,690.0L843.7,689.6L836.5,689.3L829.4,688.9L822.3,688.5L815.1,688.0L808.0,687.6L800.8,687.1L793.7,686.6L786.6,686.1L779.4,685.6L772.3,685.1L765.2,684.5L758.0,683.9L750.9,683.3L750.9,683.3L750.9,683.3L750.1,693.2L749.3,703.1L748.4,712.9L747.6,722.8L746.7,732.6L745.9,742.5L745.1,752.4L744.2,762.3Z" fill="#d088f0" stroke="#d088f0" stroke-width="0.6"/>
<path d="M375.8,665.4L374.6,665.2L367.5,663.6L360.4,661.9L353.3,660.3L346.2,658.6L339.1,656.9L332.1,655.2L325.0,653.5L317.9,651.8L310.8,650.0L303.8,648.2L296.7,646.4L292.0,645.2L292.0,645.2L289.5,654.8L287.1,664.4L284.6,674.0L282.1,683.6L279.6,693.2L277.1,702.8L274.7,712.4L272.2,722.0L269.7,731.6L267.2,741.2L264.8,750.8L262.3,760.4L267.9,769.7L273.6,778.9L279.3,788.1L285.0,797.3L290.8,806.5L296.7,815.7L302.6,824.9L308.5,834.1L314.5,843.3L320.5,852.4L326.6,861.5L332.7,870.7L338.8,879.8L345.0,888.9L351.3,898.0L357.6,907.0L363.9,916.1L370.3,925.1L376.7,934.2L383.2,943.2L389.4,951.8L393.0,944.4L392.3,935.1L394.4,930.9L394.4,918.5L395.0,909.1L400.6,907.7L405.8,909.1L410.0,915.3L413.1,914.3L414.5,911.9L416.2,909.1L416.6,906.0L417.7,906.2L418.6,901.3L420.8,889.6L423.1,877.9L423.1,877.9L425.0,868.2L426.9,858.4L428.7,848.7L430.6,838.9L432.5,829.2L434.4,819.5L436.2,809.7L438.1,800.0L440.0,790.2L441.9,780.5L443.7,770.7L445.6,761.0L447.5,751.2L449.4,741.5L451.3,731.8L453.1,722.0L455.0,712.3L456.9,702.6L458.7,692.9L460.6,683.1L460.6,683.1L460.1,683.0L453.0,681.7L445.8,680.2L438.7,678.8L431.6,677.4L424.4,675.9L417.3,674.4L410.2,672.9L403.0,671.4L395.9,669.9L388.8,668.3L381.7,666.8L375.8,665.4Z" fill="#7b3ac5" stroke="#7b3ac5" stroke-width="0.6"/>
<path d="M1661.1,512.6L1657.4,513.9L1654.3,516.3L1653.7,522.6L1652.9,526.7L1654.3,532.9L1652.7,538.1L1655.3,543.3L1654.3,548.5L1650.2,553.6L1645.6,559.4L1647.1,566.1L1646.0,578.5L1642.9,587.8L1644.0,597.1L1644.7,599.3L1646.3,608.6L1645.2,613.8L1646.8,618.0L1648.4,620.6L1682.0,613.3L1684.6,610.7L1687.7,607.6L1691.3,604.0L1693.9,603.5L1693.4,594.7L1694.7,595.1L1692.6,594.0L1689.5,591.9L1687.4,586.8L1684.3,582.6Z" fill="#d58bf0" stroke="#d58bf0" stroke-width="0.6"/>
<path d="M1623.5,710.1L1625.0,697.2L1598.6,688.9L1595.5,694.6L1592.9,701.3L1590.9,706.5L1593.5,709.6L1590.9,713.8L1591.4,719.5L1595.5,722.0L1597.1,726.7L1608.5,735.5L1602.3,741.7L1599.7,747.9L1592.4,753.6L1592.4,752.5L1588.8,760.6L1590.7,766.9L1597.3,771.0L1603.5,774.6L1611.4,774.2L1613.5,777.6L1616.6,780.0L1618.7,772.4L1620.9,770.0L1625.6,762.9L1628.7,754.7L1630.7,745.3L1630.2,735.0L1629.5,725.7L1627.6,720.5L1623.5,720.0L1619.9,718.9L1619.9,715.8L1623.0,710.7Z" fill="#35027f" stroke="#35027f" stroke-width="0.6"/>
<path d="M757.3,922.6L749.5,922.0L741.6,921.3L733.8,920.7L726.0,920.0L718.2,919.3L710.4,918.6L702.6,917.9L694.7,917.2L686.9,916.4L679.1,915.6L671.3,914.8L663.5,914.0L655.7,913.1L647.9,912.2L640.1,911.3L632.3,910.4L624.5,909.5L616.7,908.5L608.9,907.5L601.2,906.6L593.4,905.5L585.6,904.5L577.8,903.4L576.4,903.2L576.4,903.2L575.0,913.4L573.6,923.5L572.2,933.6L570.8,943.8L569.4,953.9L568.0,964.0L566.6,974.1L565.2,984.3L563.8,994.4L562.4,1004.5L561.0,1014.6L559.6,1024.7L558.2,1034.8L556.8,1044.9L555.4,1055.0L554.0,1065.1L552.6,1075.2L551.2,1085.3L549.8,1095.4L548.4,1105.5L547.0,1115.6L545.6,1125.6L554.9,1126.9L564.2,1128.1L573.6,1129.3L575.8,1111.7L585.1,1112.8L594.3,1114.0L603.5,1115.1L612.8,1116.2L622.0,1117.3L627.3,1117.9L627.5,1116.5L628.7,1115.0L628.3,1109.5L628.9,1109.5L637.3,1110.4L645.7,1111.3L654.1,1112.2L662.5,1113.1L670.9,1113.9L679.4,1114.7L687.8,1115.5L696.2,1116.3L704.6,1117.1L713.0,1117.8L721.5,1118.5L729.9,1119.2L738.3,1119.8L746.7,1120.5L747.5,1110.6L748.3,1100.8L749.1,1090.9L749.8,1081.1L750.6,1071.2L751.4,1061.3L752.2,1051.5L752.9,1041.6L753.7,1031.7L754.5,1021.8L755.3,1012.0L756.0,1002.1L756.8,992.2L757.6,982.3L758.4,972.4L759.1,962.5L759.9,952.6L760.7,942.7L761.9,942.8L761.9,942.8L762.6,932.9L763.4,923.0L763.4,923.0Z" fill="#ad6be3" stroke="#ad6be3" stroke-width="0.6"/>
<path d="M1568.0,548.6L1560.1,550.5L1560.2,550.7L1551.0,560.0L1542.7,573.5L1537.5,581.8L1530.2,588.0L1530.2,592.1L1534.8,596.3L1535.4,602.5L1537.5,611.9L1532.3,616.0L1526.1,623.3L1519.8,627.9L1507.4,629.9L1502.2,632.2L1499.1,630.6L1490.8,630.6L1480.4,632.2L1470.0,635.3L1460.6,639.9L1464.8,648.2L1470.0,657.6L1465.8,661.7L1463.8,665.9L1455.5,674.2L1448.3,681.4L1447.7,680.8L1447.9,681.7L1449.8,692.5L1457.2,691.2L1464.7,689.9L1472.1,688.6L1479.5,687.2L1487.0,685.8L1494.4,684.4L1501.8,683.0L1509.3,681.6L1516.7,680.1L1524.1,678.6L1531.5,677.1L1538.9,675.6L1546.3,674.1L1553.7,672.5L1561.1,670.9L1568.5,669.3L1572.8,668.4L1572.8,668.6L1573.8,668.4L1575.3,669.1L1580.0,671.3L1584.1,674.4L1585.7,679.1L1589.8,683.2L1595.5,685.8L1598.6,687.3L1598.6,688.9L1625.0,697.2L1623.5,710.1L1624.5,710.7L1626.1,713.8L1628.7,713.8L1635.9,710.7L1644.2,707.0L1652.5,703.4L1662.9,695.6L1671.1,689.4L1675.8,684.2L1668.5,682.2L1664.9,685.3L1660.8,688.4L1654.6,690.5L1647.3,692.5L1642.1,695.6L1635.9,696.7L1631.5,699.6L1629.9,703.7L1630.5,699.3L1632.3,696.2L1631.3,694.6L1629.2,691.0L1634.9,684.8L1632.8,681.1L1631.3,673.9L1628.7,661.5L1627.1,653.2L1626.6,633.5L1627.1,625.7L1625.6,619.0L1623.5,610.7L1621.4,601.4L1619.9,594.7L1620.1,595.1L1613.5,584.7L1609.8,576.4L1610.8,570.2L1609.8,561.9L1605.6,549.5L1602.9,540.2L1600.1,540.8L1600.0,540.2Z" fill="#3c0a87" stroke="#3c0a87" stroke-width="0.6"/>
<path d="M1608.2,882.0L1605.8,882.5L1600.2,883.7L1592.1,885.4L1584.1,887.1L1576.1,888.8L1568.0,890.4L1560.0,892.1L1551.9,893.7L1543.8,895.2L1535.8,896.8L1527.7,898.3L1519.6,899.8L1511.6,901.3L1503.5,902.8L1495.4,904.2L1487.3,905.7L1479.2,907.1L1470.5,908.4L1461.9,909.6L1453.2,910.9L1444.5,912.1L1435.8,913.3L1427.2,914.4L1426.5,914.4L1426.1,921.0L1420.3,927.7L1417.0,934.4L1412.8,933.2L1409.5,937.7L1405.3,941.0L1401.9,939.4L1393.6,944.4L1391.1,950.2L1385.3,952.7L1377.8,960.2L1374.4,961.9L1366.9,964.4L1361.9,969.4L1360.2,975.2L1352.2,979.9L1352.2,987.6L1358.6,986.9L1366.8,985.8L1375.0,984.7L1383.2,983.6L1390.0,982.7L1390.3,982.2L1391.0,981.8L1403.6,975.2L1413.6,971.6L1414.0,971.3L1454.5,966.9L1460.7,969.8L1464.6,978.3L1500.5,973.2L1542.5,1003.6L1544.9,1003.2L1553.4,1000.4L1562.0,997.0L1564.3,987.7L1570.6,978.3L1579.1,969.0L1588.5,962.0L1600.9,958.1L1601.7,953.4L1605.6,947.9L1598.6,946.9L1590.8,951.1L1586.1,947.9L1591.6,949.5L1595.5,944.0L1597.5,937.0L1593.9,934.7L1590.8,928.5L1591.6,926.9L1595.5,932.4L1607.2,931.6L1611.8,922.2L1616.5,916.8L1617.3,911.3L1615.7,901.2L1610.3,891.1L1606.1,883.1Z" fill="#db93f3" stroke="#db93f3" stroke-width="0.6"/>
<path d="M948.8,457.1L948.8,457.5L944.1,457.4L937.5,457.3L931.0,457.2L924.4,457.0L917.8,456.9L911.3,456.7L904.7,456.5L898.2,456.3L891.6,456.1L885.1,455.8L878.5,455.6L872.0,455.3L865.4,455.0L858.9,454.7L852.3,454.3L845.8,454.0L839.3,453.6L832.7,453.2L826.2,452.8L819.6,452.4L813.1,452.0L806.5,451.5L800.0,451.1L793.5,450.6L786.9,450.1L780.4,449.6L773.9,449.0L770.9,448.8L770.9,448.8L770.1,458.5L769.3,468.1L768.4,477.8L767.6,487.5L766.8,497.3L766.0,507.0L765.1,516.7L764.3,526.5L763.5,536.2L762.6,546.0L761.8,555.8L761.0,565.5L760.8,567.7L760.8,567.7L767.7,568.3L774.6,568.8L781.4,569.4L788.3,569.9L795.2,570.4L802.0,570.9L808.9,571.4L815.8,571.9L822.7,572.3L829.5,572.7L836.4,573.1L843.3,573.5L850.2,573.9L857.1,574.2L863.9,574.6L870.8,574.9L877.7,575.2L884.6,575.5L891.5,575.7L898.4,576.0L905.2,576.2L912.1,576.4L919.0,576.6L925.9,576.7L932.8,576.9L939.7,577.0L946.6,577.1L953.5,577.2L960.4,577.3L965.4,577.4L965.0,570.3L964.0,562.0L960.6,553.7L959.8,543.3L958.6,528.8L957.7,513.2L956.1,505.9L953.0,497.6L950.9,487.2L950.5,474.8L951.9,470.6L950.9,464.4L948.9,457.5Z" fill="#e09af5" stroke="#e09af5" stroke-width="0.6"/>
<path d="M1346.8,718.9L1345.8,719.0L1338.7,720.2L1330.6,721.6L1322.6,722.9L1314.5,724.2L1306.4,725.5L1306.4,725.5L1307.3,733.7L1308.5,744.3L1309.7,755.0L1311.0,765.7L1312.2,776.4L1313.4,787.0L1314.6,797.7L1315.8,808.4L1317.1,819.1L1318.0,827.5L1326.9,826.8L1331.9,829.3L1336.9,835.9L1345.2,837.6L1353.6,841.8L1358.6,838.4L1368.6,840.9L1376.9,834.3L1380.3,840.1L1388.6,845.4L1396.1,843.4L1396.6,840.1L1396.3,839.9L1399.4,828.9L1404.6,826.8L1408.7,822.7L1409.8,812.3L1417.0,802.5L1420.1,804.0L1429.5,795.7L1432.6,785.3L1435.7,770.8L1436.8,762.5L1434.3,752.1L1433.6,750.0L1436.3,746.4L1436.3,745.9L1436.1,744.8L1434.4,734.7L1432.8,724.6L1431.1,714.4L1429.4,704.3L1428.3,697.1L1418.1,702.2L1407.7,709.5L1396.3,720.9L1388.0,722.0L1380.7,725.1L1374.5,728.6L1366.1,725.7L1361.0,726.1L1351.6,722.0L1346.5,719.4Z" fill="#dc93f3" stroke="#dc93f3" stroke-width="0.6"/>
<path d="M793.1,925.1L788.6,924.8L780.8,924.3L772.9,923.7L765.1,923.2L763.4,923.0L763.4,923.0L762.6,932.9L761.9,942.8L768.6,943.3L776.5,943.9L784.4,944.4L792.3,944.9L800.3,945.4L808.2,945.9L816.1,946.3L824.0,946.8L832.0,947.2L839.9,947.6L847.8,947.9L855.7,948.3L855.3,958.2L854.9,968.1L854.5,978.0L854.1,987.9L853.6,997.8L853.2,1007.7L852.8,1017.6L852.5,1024.3L852.5,1025.0L852.6,1025.1L853.5,1025.7L856.8,1027.6L861.8,1032.2L868.5,1032.2L871.5,1030.2L877.1,1034.8L878.1,1039.8L885.1,1040.2L891.0,1043.2L896.8,1041.8L902.2,1045.2L904.3,1042.2L911.0,1043.2L913.5,1049.3L916.8,1053.5L921.0,1054.8L926.5,1049.8L931.0,1053.5L933.5,1053.2L936.9,1056.5L941.5,1053.5L942.7,1059.8L950.2,1051.5L952.7,1055.2L958.6,1055.5L961.1,1054.3L961.6,1056.5L968.6,1060.7L974.9,1059.3L976.1,1056.5L985.2,1056.0L994.4,1052.7L996.1,1054.3L1000.0,1055.1L1007.5,1052.3L1015.0,1057.6L1021.7,1060.9L1029.2,1063.4L1030.2,1064.1L1030.3,1054.7L1030.4,1044.7L1030.5,1034.6L1030.6,1024.6L1030.6,1014.6L1030.7,1004.6L1030.8,994.5L1029.2,983.6L1027.5,972.6L1025.9,961.6L1024.2,950.6L1024.1,940.1L1024.0,930.7L1023.9,930.7L1016.1,930.8L1008.2,930.9L1000.4,931.0L992.5,931.0L984.7,931.0L976.9,931.0L969.0,931.0L961.2,931.0L953.3,930.9L945.5,930.8L937.6,930.7L929.8,930.6L921.9,930.5L914.1,930.3L906.2,930.1L898.4,929.9L890.5,929.7L882.7,929.4L874.8,929.1L867.0,928.9L859.2,928.5L851.3,928.2L843.5,927.9L835.6,927.5L827.8,927.1L820.0,926.7L812.1,926.2L804.3,925.8L796.4,925.3L793.1,925.1Z" fill="#9650da" stroke="#9650da" stroke-width="0.6"/>
<path d="M177.5,613.0L184.5,615.1L191.5,617.2L198.4,619.3L205.4,621.4L212.4,623.4L219.4,625.4L226.4,627.4L233.4,629.4L240.4,631.4L247.5,633.3L254.5,635.3L261.5,637.2L268.5,639.1L275.6,640.9L282.6,642.8L289.7,644.6L292.0,645.2L296.7,646.4L303.8,648.2L310.8,650.0L317.9,651.8L325.0,653.5L332.1,655.2L339.1,656.9L346.2,658.6L353.3,660.3L360.4,661.9L367.5,663.6L374.6,665.2L375.8,665.4L375.8,665.4L378.1,655.0L380.5,644.5L382.8,634.0L385.2,623.5L387.5,613.1L389.0,606.4L389.2,606.5L390.9,599.2L393.6,592.7L394.4,590.9L398.2,583.6L394.4,578.5L390.3,575.3L392.3,569.1L398.6,560.8L403.8,556.6L410.0,547.3L416.2,538.0L422.0,529.6L419.3,521.3L415.2,516.1L413.8,513.2L413.4,512.1L407.9,510.9L400.5,509.2L393.2,507.5L385.9,505.8L378.5,504.1L371.2,502.3L363.9,500.6L360.6,499.7L358.0,499.1L356.9,499.5L353.9,500.6L345.6,499.1L329.0,499.5L322.8,501.2L316.5,499.9L311.3,497.9L303.0,499.5L287.5,492.3L278.1,490.8L266.7,493.3L257.3,487.1L256.3,479.8L255.3,468.4L250.1,462.6L243.8,462.1L240.7,457.0L230.3,459.0L226.2,468.4L224.1,476.7L220.0,489.1L212.7,505.8L206.5,522.4L200.2,536.9L194.0,549.4L184.7,563.9L175.7,577.4L176.3,588.8L173.2,597.1L172.2,607.5L173.1,609.9L170.6,610.9L174.0,611.9Z" fill="#b872e6" stroke="#b872e6" stroke-width="0.6"/>
<path d="M1428.3,697.1L1429.4,704.3L1431.1,714.4L1432.8,724.6L1434.4,734.7L1436.1,744.8L1436.3,745.9L1436.3,746.4L1437.8,754.9L1439.4,765.1L1441.1,775.2L1442.7,785.3L1450.5,784.0L1458.3,782.7L1466.1,781.4L1473.6,780.1L1473.6,780.1L1473.9,780.0L1481.7,778.6L1489.5,777.2L1497.3,775.8L1505.0,774.4L1512.8,772.9L1520.6,771.4L1528.3,769.9L1536.1,768.4L1543.8,766.8L1551.6,765.3L1559.3,763.7L1567.1,762.1L1574.8,760.4L1582.4,758.8L1582.4,758.7L1584.6,755.6L1587.7,753.7L1591.3,754.3L1592.4,752.5L1592.4,753.6L1599.7,747.9L1602.3,741.7L1608.5,735.5L1597.1,726.7L1595.5,722.0L1591.4,719.5L1590.9,713.8L1593.5,709.6L1590.9,706.5L1592.9,701.3L1595.5,694.6L1598.6,688.9L1598.6,687.3L1595.5,685.8L1589.8,683.2L1585.7,679.1L1584.1,674.4L1580.0,671.3L1575.3,669.1L1573.8,668.4L1572.8,668.6L1572.8,668.4L1568.5,669.3L1561.1,670.9L1553.7,672.5L1546.3,674.1L1538.9,675.6L1531.5,677.1L1524.1,678.6L1516.7,680.1L1509.3,681.6L1501.8,683.0L1494.4,684.4L1487.0,685.8L1479.5,687.2L1472.1,688.6L1464.7,689.9L1457.2,691.2L1449.8,692.5L1447.9,681.7L1447.1,682.5L1429.4,696.3L1427.8,694.2Z" fill="#a35ee0" stroke="#a35ee0" stroke-width="0.6"/>
<path d="M1688.7,645.9L1686.7,641.3L1683.6,640.7L1675.3,643.9L1681.0,669.7L1690.8,665.1L1691.3,662.5L1689.8,651.1L1690.8,650.1ZM1696.0,653.0L1695.5,653.4L1693.4,659.6L1698.9,657.8L1699.1,657.3Z" fill="#4a1595" stroke="#4a1595" stroke-width="0.6"/>
<path d="M1390.3,982.2L1390.0,982.7L1384.4,994.4L1393.6,1001.1L1401.1,1002.8L1407.0,1011.9L1413.6,1020.3L1427.0,1030.0L1431.8,1033.4L1437.6,1037.6L1438.1,1041.7L1445.1,1046.8L1451.0,1050.9L1456.0,1056.8L1458.5,1063.4L1460.2,1068.4L1464.3,1070.9L1470.2,1078.5L1471.8,1085.1L1480.5,1088.1L1483.5,1082.6L1491.9,1075.1L1490.2,1068.4L1500.2,1064.3L1506.0,1060.1L1510.2,1055.1L1516.9,1048.4L1520.2,1043.4L1525.2,1038.4L1527.7,1033.4L1526.9,1026.7L1531.1,1016.7L1536.1,1009.2L1542.5,1003.6L1500.5,973.2L1464.6,978.3L1460.7,969.8L1454.5,966.9L1414.0,971.3L1413.6,971.6L1403.6,975.2L1391.0,981.8Z" fill="#a25de0" stroke="#a25de0" stroke-width="0.6"/>
<path d="M756.8,614.5L756.0,624.3L755.1,634.2L754.3,644.0L753.5,653.8L752.6,663.7L751.8,673.5L750.9,683.3L758.0,683.9L765.2,684.5L772.3,685.1L779.4,685.6L786.6,686.1L793.7,686.6L800.8,687.1L808.0,687.6L815.1,688.0L822.3,688.5L829.4,688.9L836.5,689.3L843.7,689.6L850.8,690.0L858.0,690.3L865.1,690.6L872.3,690.9L879.4,691.2L886.6,691.5L893.7,691.7L900.0,691.9L900.0,692.2L908.0,692.7L909.3,692.8L914.5,697.0L923.9,701.1L927.0,698.4L943.6,698.4L949.8,701.1L957.1,704.3L962.3,711.5L968.5,713.6L966.0,711.5L962.3,703.6L965.4,697.0L967.5,689.7L964.8,683.5L965.4,678.3L964.0,673.3L964.0,673.3L968.1,673.3L968.1,662.9L968.2,652.4L968.2,642.0L968.3,631.6L968.3,621.2L968.4,610.8L968.4,604.6L968.4,603.6L968.1,601.5L968.0,601.4L963.3,599.4L960.2,595.2L957.5,589.4L961.3,586.9L964.0,583.8L965.4,577.6L965.4,577.5L965.4,577.4L960.4,577.3L953.5,577.2L946.6,577.1L939.7,577.0L932.8,576.9L925.9,576.7L919.0,576.6L912.1,576.4L905.2,576.2L898.4,576.0L891.5,575.7L884.6,575.5L877.7,575.2L870.8,574.9L863.9,574.6L857.1,574.2L850.2,573.9L843.3,573.5L836.4,573.1L829.5,572.7L822.7,572.3L815.8,571.9L808.9,571.4L802.0,570.9L795.2,570.4L788.3,569.9L781.4,569.4L774.6,568.8L767.7,568.3L760.8,567.7L760.8,567.7L760.1,575.3L759.3,585.1L758.5,594.9L757.6,604.7L757.6,604.7Z" fill="#e09af5" stroke="#e09af5" stroke-width="0.6"/>
<path d="M1169.5,1004.7L1177.8,1004.2L1186.0,1003.7L1194.2,1003.1L1202.5,1002.5L1210.7,1001.9L1219.0,1001.2L1227.2,1000.5L1230.3,1000.3L1230.4,1000.3L1235.4,999.9L1243.6,999.1L1251.9,998.4L1260.1,997.7L1268.3,996.9L1276.5,996.1L1284.8,995.3L1293.0,994.4L1301.2,993.5L1309.4,992.7L1312.3,992.3L1317.6,991.7L1325.8,990.8L1334.0,989.9L1342.2,988.9L1350.4,987.9L1352.2,987.7L1352.2,987.6L1352.2,979.9L1360.2,975.2L1361.9,969.4L1366.9,964.4L1374.4,961.9L1377.8,960.2L1385.3,952.7L1391.1,950.2L1393.6,944.4L1401.9,939.4L1405.3,941.0L1409.5,937.7L1412.8,933.2L1417.0,934.4L1420.3,927.7L1426.1,921.0L1426.5,914.4L1426.6,912.7L1395.3,917.2L1365.2,921.5L1336.9,924.9L1303.5,927.4L1270.2,930.7L1240.1,934.4L1228.4,933.5L1228.8,940.2L1186.7,943.2L1183.1,943.9L1183.4,950.2L1180.9,956.9L1178.1,964.4L1180.9,966.9L1177.6,968.6L1175.9,974.4L1172.6,976.1L1173.4,981.9L1169.2,983.6L1168.4,988.6L1165.9,995.3L1163.4,1002.8L1163.1,1005.1Z" fill="#c17bea" stroke="#c17bea" stroke-width="0.6"/>
<path d="M761.9,942.8L760.7,942.7L759.9,952.6L759.1,962.5L758.4,972.4L757.6,982.3L756.8,992.2L756.0,1002.1L755.3,1012.0L754.5,1021.8L753.7,1031.7L752.9,1041.6L752.2,1051.5L751.4,1061.3L750.6,1071.2L749.8,1081.1L749.1,1090.9L748.3,1100.8L747.5,1110.6L746.7,1120.5L738.3,1119.8L729.9,1119.2L721.5,1118.5L713.0,1117.8L704.6,1117.1L696.2,1116.3L687.8,1115.5L679.4,1114.7L670.9,1113.9L662.5,1113.1L654.1,1112.2L645.7,1111.3L637.3,1110.4L628.9,1109.5L628.3,1109.5L628.7,1115.0L627.5,1116.5L627.3,1117.9L631.3,1118.3L631.9,1117.5L635.6,1120.2L639.7,1130.6L647.0,1135.2L653.2,1144.1L658.4,1148.9L663.6,1156.6L669.8,1161.3L680.2,1171.1L681.9,1178.4L686.0,1185.6L686.9,1197.1L690.6,1208.5L698.9,1216.8L707.2,1223.0L714.5,1226.1L721.8,1230.7L725.9,1235.5L731.1,1238.2L735.7,1238.2L736.7,1235.5L745.2,1229.9L747.1,1222.0L749.8,1214.7L752.9,1210.6L763.3,1209.1L765.4,1206.0L772.6,1209.1L778.9,1208.7L794.0,1210.6L800.7,1218.3L801.7,1221.0L808.0,1225.1L816.3,1233.4L820.4,1239.6L821.0,1245.9L825.6,1254.2L827.7,1260.4L832.3,1269.8L833.9,1275.0L838.1,1277.0L844.3,1285.3L846.4,1291.6L852.6,1297.8L855.7,1298.8L858.8,1306.1L859.3,1315.5L859.9,1322.1L866.1,1330.0L868.2,1338.3L870.9,1346.2L878.6,1347.6L885.8,1353.3L890.0,1353.3L901.4,1360.7L910.8,1361.6L921.1,1362.2L927.0,1367.8L939.8,1365.3L939.8,1362.2L935.7,1361.1L934.6,1352.8L931.5,1345.6L929.4,1336.2L930.5,1321.7L931.1,1315.9L924.3,1313.8L929.4,1311.3L932.1,1312.3L934.6,1304.0L937.8,1296.8L928.4,1292.6L937.8,1290.1L942.9,1287.4L946.1,1284.3L939.8,1282.2L948.1,1279.1L952.3,1278.5L954.4,1270.8L958.9,1273.9L968.9,1267.7L979.3,1262.5L991.8,1256.3L1002.1,1252.1L1008.4,1246.9L1021.7,1234.4L1018.7,1233.6L1018.4,1228.6L1014.7,1226.1L1015.8,1222.8L1020.9,1217.8L1024.7,1217.8L1025.0,1225.3L1038.4,1223.6L1050.9,1219.4L1054.2,1218.6L1051.7,1215.3L1057.6,1205.2L1058.7,1201.1L1058.1,1193.6L1057.6,1184.4L1061.7,1175.2L1064.2,1166.9L1063.4,1161.9L1060.4,1159.4L1057.6,1151.9L1053.1,1144.4L1053.7,1140.2L1050.9,1134.3L1046.7,1129.3L1046.7,1129.1L1045.8,1124.7L1045.7,1122.7L1045.7,1118.8L1045.5,1108.2L1045.2,1097.7L1045.0,1088.2L1045.0,1087.1L1044.8,1076.6L1044.6,1067.1L1044.6,1066.9L1044.4,1066.8L1044.2,1066.8L1038.4,1065.4L1034.2,1066.8L1030.5,1064.3L1030.2,1064.1L1029.2,1063.4L1021.7,1060.9L1015.0,1057.6L1007.5,1052.3L1000.0,1055.1L996.1,1054.3L994.4,1052.7L985.2,1056.0L976.1,1056.5L974.9,1059.3L968.6,1060.7L961.6,1056.5L961.1,1054.3L958.6,1055.5L952.7,1055.2L950.2,1051.5L942.7,1059.8L941.5,1053.5L936.9,1056.5L933.5,1053.2L931.0,1053.5L926.5,1049.8L921.0,1054.8L916.8,1053.5L913.5,1049.3L911.0,1043.2L904.3,1042.2L902.2,1045.2L896.8,1041.8L891.0,1043.2L885.1,1040.2L878.1,1039.8L877.1,1034.8L871.5,1030.2L868.5,1032.2L861.8,1032.2L856.8,1027.6L853.5,1025.7L852.6,1025.1L852.5,1025.0L852.5,1024.3L852.8,1017.6L853.2,1007.7L853.6,997.8L854.1,987.9L854.5,978.0L854.9,968.1L855.3,958.2L855.7,948.3L847.8,947.9L839.9,947.6L832.0,947.2L824.0,946.8L816.1,946.3L808.2,945.9L800.3,945.4L792.3,944.9L784.4,944.4L776.5,943.9L768.6,943.3L761.9,942.8Z" fill="#7b3ac5" stroke="#7b3ac5" stroke-width="0.6"/>
<path d="M546.2,698.2L539.0,697.0L531.8,695.8L524.6,694.7L517.5,693.4L510.3,692.2L503.1,690.9L495.9,689.7L488.8,688.4L481.6,687.1L474.4,685.8L467.3,684.4L460.6,683.1L460.6,683.1L458.7,692.9L456.9,702.6L455.0,712.3L453.1,722.0L451.3,731.8L449.4,741.5L447.5,751.2L445.6,761.0L443.7,770.7L441.9,780.5L440.0,790.2L438.1,800.0L436.2,809.7L434.4,819.5L432.5,829.2L430.6,838.9L428.7,848.7L426.9,858.4L425.0,868.2L423.1,877.9L430.7,879.4L438.4,880.8L446.1,882.3L453.8,883.7L461.5,885.1L469.3,886.4L477.0,887.8L484.7,889.1L492.5,890.4L500.2,891.7L508.0,893.0L515.7,894.2L523.5,895.4L531.2,896.6L539.0,897.8L546.7,899.0L554.5,900.1L562.3,901.2L570.0,902.4L576.3,903.2L577.7,893.4L579.1,883.6L580.4,873.7L581.8,863.9L583.1,854.1L584.5,844.2L585.9,834.4L587.2,824.6L588.6,814.7L589.9,804.9L591.3,795.1L592.7,785.3L594.0,775.4L595.4,765.6L596.7,755.8L598.1,746.0L598.1,746.0L592.3,745.2L584.8,744.1L577.3,743.0L569.9,741.9L562.4,740.8L554.9,739.7L547.4,738.5L540.0,737.3L541.5,727.5L543.1,717.7L544.6,708.0L546.2,698.2L546.2,698.2Z" fill="#c27deb" stroke="#c27deb" stroke-width="0.6"/>
<path d="M1652.9,526.7L1602.9,540.2L1605.6,549.5L1609.8,561.9L1610.8,570.2L1609.8,576.4L1613.5,584.7L1620.1,595.1L1619.9,594.7L1621.4,601.4L1623.5,610.7L1625.6,619.0L1627.1,625.7L1648.4,620.6L1646.8,618.0L1645.2,613.8L1646.3,608.6L1644.7,599.3L1644.0,597.1L1642.9,587.8L1646.0,578.5L1647.1,566.1L1645.6,559.4L1650.2,553.6L1654.3,548.5L1655.3,543.3L1652.7,538.1L1654.3,532.9Z" fill="#e29bf5" stroke="#e29bf5" stroke-width="0.6"/>
<path d="M1598.7,829.0L1597.6,833.2L1596.5,839.4L1595.4,844.2L1595.1,849.8L1595.2,855.3L1597.6,860.1L1601.4,857.4L1602.8,851.8L1604.2,845.6L1605.2,840.1L1605.0,835.3L1607.0,829.7L1609.7,827.3L1611.1,824.9L1611.8,821.6L1600.4,824.9ZM1427.2,914.4L1435.8,913.3L1444.5,912.1L1453.2,910.9L1461.9,909.6L1470.5,908.4L1479.2,907.1L1487.3,905.7L1495.4,904.2L1503.5,902.8L1511.6,901.3L1519.6,899.8L1527.7,898.3L1535.8,896.8L1543.8,895.2L1551.9,893.7L1560.0,892.1L1568.0,890.4L1576.1,888.8L1584.1,887.1L1592.1,885.4L1600.2,883.7L1605.8,882.5L1605.6,882.1L1604.2,880.0L1598.7,869.0L1592.5,869.6L1586.2,872.2L1577.3,868.1L1568.3,862.2L1568.3,861.4L1576.6,862.2L1578.1,865.0L1586.1,868.3L1588.0,863.6L1581.1,859.4L1583.8,856.7L1582.4,852.5L1582.8,848.4L1582.0,844.4L1583.1,839.4L1583.8,832.5L1573.8,827.7L1570.4,825.2L1560.0,824.6L1555.9,823.9L1548.8,820.7L1547.2,816.3L1548.0,813.2L1551.1,807.0L1551.9,802.3L1550.4,799.0L1550.2,798.8L1543.3,794.8L1537.9,793.7L1537.1,789.8L1532.4,786.7L1527.7,786.0L1526.2,793.7L1509.0,784.4L1508.3,794.5L1504.4,802.3L1499.7,808.5L1497.4,814.0L1493.5,811.7L1490.3,824.1L1487.2,830.3L1481.0,827.2L1475.5,825.4L1476.0,831.9L1472.4,839.7L1468.5,849.0L1463.9,858.4L1462.3,863.8L1464.6,866.5L1463.1,870.1L1458.4,874.7L1455.3,873.2L1452.2,877.1L1446.7,876.8L1446.0,881.0L1437.4,886.1L1431.9,882.5L1426.5,888.0L1420.2,887.2L1414.8,883.3L1412.5,877.9L1412.0,877.6L1403.6,886.8L1393.6,895.2L1388.6,901.8L1386.9,906.0L1381.9,909.3L1376.9,914.3L1366.9,920.2L1365.2,921.5L1395.3,917.2L1426.6,912.7L1426.5,914.4Z" fill="#cd85ee" stroke="#cd85ee" stroke-width="0.6"/>
<path d="M291.3,360.1L289.3,364.1L291.1,368.4L294.8,370.1L294.2,375.3L295.1,377.6L291.3,381.1L291.1,385.7L292.8,388.6L291.9,395.5L293.9,400.6L287.3,407.5L285.3,412.7L285.0,423.4L279.8,425.4L278.1,425.4L281.6,417.9L283.9,410.4L285.0,403.2L281.9,402.6L281.0,397.8L279.8,392.3L277.0,393.4L271.5,388.0L269.5,389.4L249.3,381.1L236.7,368.7L233.2,375.3L231.2,384.5L232.4,389.1L235.0,393.7L234.1,401.8L233.2,409.3L235.0,412.7L234.1,420.2L237.3,424.2L237.0,428.5L232.9,432.3L234.4,439.8L235.2,443.5L228.6,450.0L231.4,454.3L240.7,457.0L243.8,462.1L250.1,462.6L255.3,468.4L256.3,479.8L257.3,487.1L266.7,493.3L278.1,490.8L287.5,492.3L303.0,499.5L311.3,497.9L316.5,499.9L322.8,501.2L329.0,499.5L345.6,499.1L353.9,500.6L356.9,499.5L358.0,499.1L360.6,499.7L363.9,500.6L371.2,502.3L378.5,504.1L385.9,505.8L393.2,507.5L400.5,509.2L407.9,510.9L413.4,512.1L413.1,511.6L413.7,504.7L412.5,498.5L412.6,497.9L413.1,498.0L414.2,493.5L415.4,487.9L417.7,477.8L420.0,467.6L422.3,457.5L424.6,447.4L426.9,437.4L429.2,427.3L431.4,417.2L433.7,407.2L436.0,397.1L436.0,397.1L430.8,395.9L424.4,394.5L418.0,393.0L411.6,391.5L405.3,390.0L398.9,388.5L392.5,386.9L386.1,385.4L379.8,383.8L373.4,382.2L367.1,380.6L360.7,378.9L354.4,377.3L348.0,375.6L341.7,374.0L335.4,372.3L329.0,370.6L322.7,368.8L316.4,367.1L310.1,365.3L303.8,363.5L297.5,361.7L291.4,360.0L291.2,359.9Z" fill="#a15cdf" stroke="#a15cdf" stroke-width="0.6"/>
<path d="M1442.7,785.3L1441.1,775.2L1439.4,765.1L1437.8,754.9L1436.3,746.4L1433.6,750.0L1434.3,752.1L1436.8,762.5L1435.7,770.8L1432.6,785.3L1429.5,795.7L1420.1,804.0L1417.0,802.5L1409.8,812.3L1408.7,822.7L1404.6,826.8L1399.4,828.9L1396.3,839.9L1396.6,840.1L1396.1,843.4L1388.6,845.4L1388.3,856.8L1396.9,867.6L1403.6,874.3L1412.0,877.6L1412.5,877.9L1414.8,883.3L1420.2,887.2L1426.5,888.0L1431.9,882.5L1437.4,886.1L1446.0,881.0L1446.7,876.8L1452.2,877.1L1455.3,873.2L1458.4,874.7L1463.1,870.1L1464.6,866.5L1462.3,863.8L1463.9,858.4L1468.5,849.0L1472.4,839.7L1476.0,831.9L1475.5,825.4L1481.0,827.2L1487.2,830.3L1490.3,824.1L1493.5,811.7L1497.4,814.0L1499.7,808.5L1504.4,802.3L1508.3,794.5L1509.0,784.4L1526.2,793.7L1527.7,786.0L1524.6,781.3L1521.5,775.8L1516.0,776.6L1511.4,774.6L1507.5,776.6L1504.4,781.7L1493.5,782.1L1490.3,786.7L1484.9,788.3L1476.3,800.0L1473.6,780.1L1466.1,781.4L1458.3,782.7L1450.5,784.0Z" fill="#924fdb" stroke="#924fdb" stroke-width="0.6"/>
<path d="M1117.0,675.2L1121.2,679.3L1118.5,686.6L1120.1,692.8L1123.3,699.1L1128.5,702.2L1132.6,703.6L1135.3,707.8L1135.6,708.2L1142.2,707.9L1149.7,707.5L1157.2,707.0L1164.8,706.6L1172.3,706.1L1179.8,705.6L1187.3,705.1L1194.9,704.6L1202.4,704.1L1209.9,703.5L1215.7,703.1L1214.6,690.8L1212.6,682.5L1211.1,672.1L1212.6,661.7L1215.3,652.3L1215.7,640.9L1218.2,634.7L1217.8,628.5L1219.8,618.1L1224.0,609.8L1228.1,598.3L1228.1,594.6L1224.0,597.3L1220.9,605.6L1214.6,609.8L1211.5,616.0L1206.3,622.2L1204.3,618.1L1209.4,609.8L1212.6,604.6L1211.1,597.3L1210.5,590.0L1206.3,589.0L1207.0,580.7L1205.3,576.5L1199.1,574.0L1197.0,569.9L1186.6,567.8L1177.3,566.1L1170.0,563.0L1155.5,559.9L1140.9,556.8L1138.8,552.6L1133.6,548.5L1128.5,547.5L1123.3,546.0L1118.5,547.9L1118.1,543.3L1121.8,537.1L1120.6,534.0L1113.9,537.1L1107.7,539.1L1099.4,543.3L1093.1,545.4L1085.9,543.3L1082.3,545.4L1081.7,557.8L1081.3,566.1L1080.3,572.0L1074.5,574.5L1070.3,577.6L1067.2,583.8L1066.1,586.9L1070.3,592.1L1073.4,595.2L1071.3,599.4L1069.9,609.8L1070.7,616.0L1069.9,622.2L1073.4,625.3L1077.6,629.1L1082.8,630.1L1085.9,633.6L1094.2,637.8L1096.3,642.0L1101.5,646.1L1108.7,650.3L1112.9,654.4L1115.0,659.6L1116.0,669.6L1116.1,669.9L1116.1,670.1Z" fill="#f0a5fa" stroke="#f0a5fa" stroke-width="0.6"/>
<path d="M544.6,708.0L543.1,717.7L541.5,727.5L540.0,737.3L547.4,738.5L554.9,739.7L562.4,740.8L569.9,741.9L577.3,743.0L584.8,744.1L592.3,745.2L598.1,746.0L599.8,746.2L607.3,747.2L614.8,748.2L622.3,749.2L629.8,750.2L637.3,751.1L644.8,752.0L652.3,752.9L659.8,753.8L667.3,754.7L674.9,755.5L682.4,756.3L689.9,757.1L697.4,757.9L704.9,758.6L712.5,759.4L720.0,760.1L727.5,760.8L735.1,761.5L742.6,762.1L744.2,762.3L744.2,762.3L745.1,752.4L745.9,742.5L746.7,732.6L747.6,722.8L748.4,712.9L749.3,703.1L750.1,693.2L750.9,683.3L750.9,683.3L750.9,683.3L751.8,673.5L752.6,663.7L753.5,653.8L754.3,644.0L755.1,634.2L756.0,624.3L756.8,614.5L757.6,604.7L757.5,604.7L750.4,604.1L743.2,603.4L736.0,602.8L728.9,602.1L721.7,601.4L714.6,600.7L707.4,600.0L700.3,599.2L693.1,598.4L686.0,597.6L678.8,596.8L671.7,596.0L664.5,595.1L657.4,594.3L650.2,593.4L643.1,592.5L636.0,591.5L628.8,590.6L621.7,589.6L614.6,588.6L607.5,587.6L600.4,586.6L593.2,585.5L586.1,584.5L579.0,583.4L571.9,582.3L564.8,581.2L563.2,590.9L561.7,600.5L561.7,600.6L560.2,610.3L558.6,620.1L557.1,629.8L555.5,639.6L553.9,649.3L552.4,659.1L550.8,668.9L549.3,678.6L547.7,688.4L546.2,698.2L546.2,698.2L546.2,698.2Z" fill="#c882ee" stroke="#c882ee" stroke-width="0.6"/>
<path d="M1552.3,801.2L1555.0,798.4L1552.3,795.8L1549.8,798.4L1550.2,798.8L1550.4,799.0Z" fill="#2d0070" stroke="#2d0070" stroke-width="0.6"/>
<path d="M205.4,950.0L210.6,950.6L208.1,954.8Z" fill="#a05bde"/>
<path d="M348.6,1157.7L372.8,1282.1L376.2,1282.1L380.6,1282.4L381.8,1280.2L385.5,1279.6L385.9,1283.4L389.3,1284.9L392.4,1287.7L398.0,1291.2L399.9,1293.0L401.1,1295.8L403.6,1293.0L406.4,1290.5L406.1,1287.4L407.4,1284.3L411.4,1280.9L415.5,1283.1L416.1,1286.2L419.2,1286.8L422.9,1290.2L426.0,1291.2L430.4,1294.0L434.8,1298.6L439.8,1303.6L443.5,1307.0L446.0,1309.8L449.7,1313.6L452.2,1314.5L457.2,1314.8L462.2,1316.4L465.3,1317.3L465.9,1321.1L468.4,1324.8L469.3,1327.3L468.4,1332.3L466.2,1336.0L464.0,1334.8L462.2,1331.7L457.8,1329.8L456.0,1327.6L453.5,1327.3L451.6,1325.4L447.2,1323.6L446.0,1320.7L446.9,1318.9L442.9,1316.1L440.4,1313.0L435.7,1310.5L434.8,1308.0L432.3,1305.5L429.8,1303.0L427.0,1299.9L424.2,1298.0L421.1,1294.9L417.9,1292.4L415.5,1291.2L414.8,1294.9L417.9,1299.9L414.8,1299.3L413.0,1297.4L411.1,1295.5L408.0,1295.5L411.1,1298.6L413.0,1300.5L409.8,1303.0L406.1,1302.4L401.1,1300.5L398.0,1297.4L396.1,1295.5L391.2,1293.6L383.7,1291.2L383.1,1288.3L380.6,1289.3L375.6,1290.5L371.2,1289.0L366.2,1287.4L364.5,1287.4L354.8,1289.2L346.8,1286.5L339.8,1283.9L335.3,1287.4L330.1,1281.2L325.6,1282.1L326.5,1289.2L323.0,1293.6L317.7,1294.5L313.3,1299.8L307.1,1305.1L300.9,1306.5L300.0,1303.3L304.5,1290.9L303.6,1285.6L308.9,1283.0L315.0,1281.2L311.5,1278.6L314.2,1275.0L307.1,1280.3L300.3,1285.0L296.2,1291.6L292.9,1297.4L287.9,1301.6L283.7,1304.9L284.2,1308.2L288.7,1309.0L290.0,1311.5L286.2,1315.3L283.7,1320.7L277.9,1324.0L272.9,1328.1L268.0,1331.5L267.5,1334.8L262.1,1338.9L256.7,1341.4L252.6,1343.9L253.0,1346.4L249.7,1348.9L243.0,1351.4L242.2,1353.5L237.2,1351.8L232.2,1355.1L228.1,1356.4L226.0,1353.1L223.1,1354.7L222.3,1359.3L216.5,1360.5L214.8,1358.9L212.3,1358.0L216.5,1356.4L219.4,1353.9L222.3,1351.0L225.6,1348.9L229.8,1348.1L233.1,1348.5L235.6,1348.9L237.2,1344.3L240.5,1341.8L244.7,1339.8L248.9,1338.5L250.5,1336.4L253.0,1332.3L258.8,1326.5L260.5,1317.3L264.2,1310.7L255.9,1313.6L251.3,1310.7L250.1,1315.7L247.2,1309.9L243.0,1309.9L240.5,1307.0L233.1,1310.7L229.8,1311.5L230.6,1306.5L229.3,1302.0L231.8,1299.1L230.2,1294.1L228.9,1290.3L225.6,1292.0L219.8,1293.7L216.5,1292.0L213.1,1286.6L210.6,1282.5L210.9,1273.3L207.4,1266.2L210.9,1261.8L217.1,1253.9L221.5,1246.8L226.8,1248.6L233.0,1245.9L241.8,1243.3L244.4,1238.0L242.7,1232.7L245.3,1228.3L241.8,1226.5L234.7,1229.1L227.7,1228.3L218.8,1227.4L213.5,1223.9L211.8,1218.6L213.5,1215.0L206.5,1209.7L215.3,1205.3L222.4,1202.1L230.3,1200.9L231.2,1207.1L240.0,1208.8L245.3,1207.1L241.8,1197.4L236.5,1195.6L233.0,1193.8L232.1,1188.5L227.7,1181.5L221.5,1174.4L224.1,1168.2L234.7,1168.2L240.0,1163.0L241.8,1157.7L247.1,1152.4L254.1,1151.5L261.2,1146.5L267.4,1146.2L272.7,1140.9L278.0,1142.7L281.5,1143.5L285.9,1147.1L293.0,1147.6L300.0,1152.4L305.3,1151.5L312.4,1153.2L319.5,1154.1L328.3,1155.9L335.3,1152.4L342.4,1155.0Z" fill="#8e4bd8"/>
<path d="M177.4,1231.8L182.7,1232.7L187.1,1233.0L190.6,1238.0L195.0,1240.6L189.7,1242.4L185.3,1238.0L180.9,1235.3Z" fill="#8e4bd8"/>
<path d="M510.0,1257.4L511.7,1253.4L517.4,1250.3L526.0,1250.9L527.9,1253.8L526.6,1260.3L522.6,1264.0L516.3,1263.1Z" fill="#c07aea"/>
<path d="M565.4,1276.3L571.1,1275.5L576.2,1270.9L580.8,1277.4L581.4,1280.8L587.7,1286.2L582.5,1288.3L579.7,1286.2L571.3,1286.8Z" fill="#c07aea"/>
<path d="M600.8,1294.5L603.1,1290.0L614.5,1292.3L616.2,1296.3L609.4,1294.5Z" fill="#c07aea"/>
<path d="M609.9,1302.2L615.6,1302.0L619.1,1305.6L613.6,1308.8Z" fill="#c07aea"/>
<path d="M623.1,1301.4L624.6,1298.3L628.4,1298.2L631.6,1302.2L637.4,1300.6L640.8,1301.4L644.2,1304.8L648.8,1306.3L647.1,1311.7L635.1,1314.9L632.6,1313.4L631.9,1306.8L625.9,1305.4Z" fill="#c07aea"/>
<path d="M656.2,1327.7L664.8,1332.6L676.2,1336.8L683.0,1343.1L686.5,1351.1L693.1,1355.4L687.4,1362.5L680.8,1365.7L675.6,1365.9L667.6,1371.6L661.3,1379.6L653.3,1375.1L652.0,1371.6L653.3,1363.1L650.5,1353.9L647.4,1347.7L652.0,1343.1L655.4,1336.2L653.1,1332.0Z" fill="#c07aea"/>
<path d="M1708.9,660.9L1714.6,655.0L1719.3,658.4Z" fill="#7636c0"/>
<path d="M275.8,372.2L279.8,371.9L284.4,369.6L287.9,372.7L286.2,376.5L281.0,378.8L277.0,376.2Z" fill="#a15cdf"/>
<path d="M411.1,1303.6L414.8,1302.1L419.8,1303.0L421.7,1304.9L423.6,1308.6L419.8,1309.8L420.4,1311.7L423.6,1311.7L426.0,1314.8L428.5,1319.8L431.0,1326.7L427.9,1324.2L424.8,1321.1L422.3,1319.8L419.8,1317.9L419.2,1314.2L417.3,1313.0L414.2,1309.8L411.1,1306.7Z" fill="#8e4bd8"/>
<path d="M422.3,1300.5L426.0,1299.9L428.5,1303.6L430.4,1306.7L431.7,1309.2L430.4,1312.3L428.5,1315.5L427.3,1311.7L425.4,1307.4L423.6,1303.6Z" fill="#8e4bd8"/>
<path d="M431.0,1316.1L433.5,1313.3L439.1,1313.0L443.5,1316.1L442.9,1318.3L438.5,1319.8L436.6,1322.3L436.0,1326.7L434.1,1326.7L432.9,1321.7L430.7,1317.9Z" fill="#8e4bd8"/>
<path d="M438.5,1322.9L441.6,1322.0L447.2,1326.0L450.3,1329.2L454.1,1332.9L456.6,1337.3L456.0,1339.8L452.2,1338.5L451.0,1341.6L447.2,1339.1L444.1,1335.4L441.0,1330.4L439.1,1327.3Z" fill="#8e4bd8"/>
<path d="M1622.4,711.8L1623.1,714.7L1621.4,717.2L1620.1,717.5L1620.6,714.1Z" fill="#3c0a87"/>
<path d="M280.0,1331.5L282.9,1328.6L286.2,1327.3L288.7,1324.8L295.4,1324.0L297.9,1327.3L298.7,1329.0L295.4,1333.1L292.0,1335.6L287.9,1337.3L285.4,1340.6L282.1,1336.4L280.4,1334.0Z" fill="#8e4bd8"/>
<path d="M290.0,1322.3L292.9,1318.2L296.2,1315.3L299.9,1319.0L297.9,1320.7L294.5,1321.5L292.0,1323.2Z" fill="#8e4bd8"/>
<path d="M279.6,1344.3L282.1,1342.7L285.8,1343.1L282.9,1343.9Z" fill="#8e4bd8"/>
<path d="M194.9,1283.7L199.0,1282.9L202.3,1282.5L206.1,1285.4L205.7,1289.5L201.5,1290.8L198.2,1288.7Z" fill="#8e4bd8"/>
<path d="M199.0,1363.4L202.3,1360.1L208.2,1358.5L211.9,1359.7L213.6,1361.4L209.8,1364.3L204.8,1364.7L200.3,1365.9Z" fill="#8e4bd8"/>
<path d="M161.6,1379.6L164.1,1376.3L167.5,1375.1L166.2,1377.6Z" fill="#8e4bd8"/>
<path d="M168.3,1373.4L171.2,1372.2L172.9,1373.4L170.0,1375.1Z" fill="#8e4bd8"/>
<path d="M172.9,1376.3L177.4,1375.1L179.9,1372.6L179.9,1369.3L183.2,1368.8L184.1,1370.1L187.0,1370.9L186.6,1373.0L182.4,1375.5L177.4,1376.3Z" fill="#8e4bd8"/>
<path d="M188.2,1367.6L190.7,1367.2L191.1,1368.7L188.6,1368.8Z" fill="#8e4bd8"/>
<path d="M232.1,1357.0L233.9,1357.4L234.1,1359.0L232.4,1358.7Z" fill="#8e4bd8"/>
<path d="M237.1,1360.1L238.9,1360.4L238.7,1361.9L237.2,1361.7Z" fill="#8e4bd8"/>
<path d="M958.5,1275.0L950.2,1281.8L942.9,1292.2L937.1,1305.1L934.0,1317.5L933.6,1330.0L935.3,1340.4L937.3,1348.7" fill="none" stroke="#7b3ac5" stroke-width="1.7" stroke-linecap="round"/>
<path d="M292.0,645.2L289.7,644.6L282.6,642.8L275.6,640.9L268.5,639.1L261.5,637.2L254.5,635.3L247.5,633.3L240.4,631.4L233.4,629.4L226.4,627.4L219.4,625.4L212.4,623.4L205.4,621.4L198.4,619.3L191.5,617.2L184.5,615.1L177.5,613.0L174.3,612.1M413.4,512.1L407.9,510.9L400.5,509.2L393.2,507.5L385.9,505.8L378.5,504.1L371.2,502.3L363.9,500.6L360.6,499.7L358.0,499.1L356.9,499.5L353.9,500.6L345.6,499.1L329.0,499.5L322.8,501.2L316.5,499.9L311.3,497.9L303.0,499.5L287.5,492.3L278.1,490.8L266.7,493.3L257.3,487.1L256.3,479.8L255.3,468.4L250.1,462.6L243.8,462.1L240.8,457.1M375.8,665.4L375.8,665.4L374.6,665.2L367.5,663.6L360.4,661.9L353.3,660.3L346.2,658.6L339.1,656.9L332.1,655.2L325.0,653.5L317.9,651.8L310.8,650.0L303.8,648.2L296.7,646.4L292.0,645.2M389.4,951.8L383.2,943.2L376.7,934.2L370.3,925.1L363.9,916.1L357.6,907.0L351.3,898.0L345.0,888.9L338.8,879.8L332.7,870.7L326.6,861.5L320.5,852.4L314.5,843.3L308.5,834.1L302.6,824.9L296.7,815.7L290.8,806.5L285.0,797.3L279.3,788.1L273.6,778.9L267.9,769.7L262.3,760.4L264.8,750.8L267.2,741.2L269.7,731.6L272.2,722.0L274.7,712.4L277.1,702.8L279.6,693.2L282.1,683.6L284.6,674.0L287.1,664.4L289.5,654.8L292.0,645.2L292.0,645.2M389.4,951.8L389.3,952.0L389.2,952.1L388.2,956.9L392.3,964.1L394.4,974.5L399.6,982.4L390.3,988.7L385.1,995.3L384.0,1003.6L376.8,1014.0L374.7,1018.1L374.3,1024.4L372.6,1026.0L377.8,1030.6L378.4,1035.8L375.7,1038.9M375.8,665.4L381.7,666.8L388.8,668.3L395.9,669.9L403.0,671.4L410.2,672.9L417.3,674.4L424.4,675.9L431.6,677.4L438.7,678.8L445.8,680.2L453.0,681.7L460.1,683.0L460.6,683.1M413.4,512.1L413.8,513.2L415.2,516.1L419.3,521.3L422.0,529.6L416.2,538.0L410.0,547.3L403.8,556.6L398.6,560.8L392.3,569.1L390.3,575.3L394.4,578.5L398.2,583.6L394.4,590.9L393.6,592.7L390.9,599.2L389.2,606.5L389.0,606.4L387.5,613.1L385.2,623.5L382.8,634.0L380.5,644.5L378.1,655.0L375.8,665.4M423.1,877.9L423.1,877.9L420.8,889.6L418.6,901.3L417.7,906.2L416.6,906.0L416.2,909.1L414.5,911.9L413.1,914.3L410.0,915.3L405.8,909.1L400.6,907.7L395.0,909.1L394.4,918.5L394.4,930.9L392.3,935.1L393.0,944.4L389.4,951.8M435.9,397.4L433.7,407.2L431.4,417.2L429.2,427.3L426.9,437.4L424.6,447.4L422.3,457.5L420.0,467.6L417.7,477.8L415.4,487.9L414.2,493.5L413.1,498.0L412.6,497.9L412.5,498.5L413.7,504.7L413.1,511.6L413.4,512.1M576.3,903.2L570.0,902.4L562.3,901.2L554.5,900.1L546.7,899.0L539.0,897.8L531.2,896.6L523.5,895.4L515.7,894.2L508.0,893.0L500.2,891.7L492.5,890.4L484.7,889.1L477.0,887.8L469.3,886.4L461.5,885.1L453.8,883.7L446.1,882.3L438.4,880.8L430.7,879.4L423.1,877.9M423.1,877.9L425.0,868.2L426.9,858.4L428.7,848.7L430.6,838.9L432.5,829.2L434.4,819.5L436.2,809.7L438.1,800.0L440.0,790.2L441.9,780.5L443.7,770.7L445.6,761.0L447.5,751.2L449.4,741.5L451.3,731.8L453.1,722.0L455.0,712.3L456.9,702.6L458.7,692.9L460.6,683.1L460.6,683.1M460.6,683.1L467.3,684.4L474.4,685.8L481.6,687.1L488.8,688.4L495.9,689.7L503.1,690.9L510.3,692.2L517.5,693.4L524.6,694.7L531.8,695.8L539.0,697.0L546.2,698.2M561.7,600.5L561.7,600.5L557.6,595.2L554.1,589.0L547.2,595.2L540.3,595.9L532.2,595.2L527.6,592.5L519.6,594.8L513.8,593.4L511.5,596.4L508.1,594.1L505.8,580.3L500.0,575.7L498.9,573.9L499.3,567.0L495.1,559.8L492.6,552.5L493.1,544.2L490.6,540.7L485.8,543.1L478.5,547.3L473.7,542.1L476.0,536.9L474.8,534.4L480.6,530.7L478.9,526.5L479.6,522.4L482.7,515.1L487.2,504.7L487.5,501.2L481.6,501.0L480.2,497.9L474.8,492.3L474.0,488.1L470.2,481.9L466.1,474.2L461.5,470.0L457.8,463.8L459.4,457.0L455.7,449.7L454.0,444.0L453.2,441.0L453.2,439.7L453.2,439.7L454.4,434.0L456.6,423.5L458.9,413.1L461.0,402.9M545.7,1125.3L547.0,1115.6L548.4,1105.5L549.8,1095.4L551.2,1085.3L552.6,1075.2L554.0,1065.1L555.4,1055.0L556.8,1044.9L558.2,1034.8L559.6,1024.7L561.0,1014.6L562.4,1004.5L563.8,994.4L565.2,984.3L566.6,974.1L568.0,964.0L569.4,953.9L570.8,943.8L572.2,933.6L573.6,923.5L575.0,913.4L576.4,903.2L576.4,903.2M598.1,746.0L592.3,745.2L584.8,744.1L577.3,743.0L569.9,741.9L562.4,740.8L554.9,739.7L547.4,738.5L540.0,737.3L541.5,727.5L543.1,717.7L544.6,708.0L546.2,698.2L546.2,698.2L546.2,698.2M546.2,698.2L547.7,688.4L549.3,678.6L550.8,668.9L552.4,659.1L553.9,649.3L555.5,639.6L557.1,629.8L558.6,620.1L560.2,610.3L561.7,600.6L561.7,600.5M561.7,600.5L563.2,590.9L564.8,581.2L571.9,582.3L579.0,583.4L586.1,584.5L593.2,585.5L600.4,586.6L607.5,587.6L614.6,588.6L621.7,589.6L628.8,590.6L636.0,591.5L643.1,592.5L650.2,593.4L657.4,594.3L664.5,595.1L671.7,596.0L678.8,596.8L686.0,597.6L693.1,598.4L700.3,599.2L707.4,600.0L714.6,600.7L721.7,601.4L728.9,602.1L736.0,602.8L743.2,603.4L750.4,604.1L757.5,604.7L757.6,604.7M598.1,746.0L598.1,746.0L596.7,755.8L595.4,765.6L594.0,775.4L592.7,785.3L591.3,795.1L589.9,804.9L588.6,814.7L587.2,824.6L585.9,834.4L584.5,844.2L583.1,854.1L581.8,863.9L580.4,873.7L579.1,883.6L577.7,893.4L576.3,903.2M576.4,903.2L577.8,903.4L585.6,904.5L593.4,905.5L601.2,906.6L608.9,907.5L616.7,908.5L624.5,909.5L632.3,910.4L640.1,911.3L647.9,912.2L655.7,913.1L663.5,914.0L671.3,914.8L679.1,915.6L686.9,916.4L694.7,917.2L702.6,917.9L710.4,918.6L718.2,919.3L726.0,920.0L733.8,920.7L741.6,921.3L749.5,922.0L757.3,922.6L763.4,923.0M744.2,762.3L744.2,762.3L742.6,762.1L735.1,761.5L727.5,760.8L720.0,760.1L712.5,759.4L704.9,758.6L697.4,757.9L689.9,757.1L682.4,756.3L674.9,755.5L667.3,754.7L659.8,753.8L652.3,752.9L644.8,752.0L637.3,751.1L629.8,750.2L622.3,749.2L614.8,748.2L607.3,747.2L599.8,746.2L598.1,746.0M627.4,1117.6L627.5,1116.5L628.7,1115.0L628.3,1109.5L628.9,1109.5L637.3,1110.4L645.7,1111.3L654.1,1112.2L662.5,1113.1L670.9,1113.9L679.4,1114.7L687.8,1115.5L696.2,1116.3L704.6,1117.1L713.0,1117.8L721.5,1118.5L729.9,1119.2L738.3,1119.8L746.7,1120.5L747.5,1110.6L748.3,1100.8L749.1,1090.9L749.8,1081.1L750.6,1071.2L751.4,1061.3L752.2,1051.5L752.9,1041.6L753.7,1031.7L754.5,1021.8L755.3,1012.0L756.0,1002.1L756.8,992.2L757.6,982.3L758.4,972.4L759.1,962.5L759.9,952.6L760.7,942.7L761.9,942.8L761.9,942.8M800.5,806.1L800.5,806.1L801.1,796.3L801.8,786.4L802.4,776.5L803.0,766.6L802.9,766.6L795.4,766.1L787.9,765.6L780.3,765.1L772.8,764.5L765.2,764.0L757.7,763.4L750.1,762.8L744.2,762.3M750.9,683.3L750.9,683.3L750.9,683.3L750.1,693.2L749.3,703.1L748.4,712.9L747.6,722.8L746.7,732.6L745.9,742.5L745.1,752.4L744.2,762.3M968.5,713.6L962.3,711.5L957.1,704.3L949.8,701.1L943.6,698.4L927.0,698.4L923.9,701.1L914.5,697.0L909.3,692.8L908.0,692.7L900.0,692.2L900.0,691.9L893.7,691.7L886.6,691.5L879.4,691.2L872.3,690.9L865.1,690.6L858.0,690.3L850.8,690.0L843.7,689.6L836.5,689.3L829.4,688.9L822.3,688.5L815.1,688.0L808.0,687.6L800.8,687.1L793.7,686.6L786.6,686.1L779.4,685.6L772.3,685.1L765.2,684.5L758.0,683.9L750.9,683.3M757.6,604.7L756.8,614.5L756.0,624.3L755.1,634.2L754.3,644.0L753.5,653.8L752.6,663.7L751.8,673.5L750.9,683.3M757.6,604.7L757.6,604.7L758.5,594.9L759.3,585.1L760.1,575.3L760.8,567.7M760.8,567.7L760.8,567.7L767.7,568.3L774.6,568.8L781.4,569.4L788.3,569.9L795.2,570.4L802.0,570.9L808.9,571.4L815.8,571.9L822.7,572.3L829.5,572.7L836.4,573.1L843.3,573.5L850.2,573.9L857.1,574.2L863.9,574.6L870.8,574.9L877.7,575.2L884.6,575.5L891.5,575.7L898.4,576.0L905.2,576.2L912.1,576.4L919.0,576.6L925.9,576.7L932.8,576.9L939.7,577.0L946.6,577.1L953.5,577.2L960.4,577.3L965.4,577.4M760.8,567.7L761.0,565.5L761.8,555.8L762.6,546.0L763.5,536.2L764.3,526.5L765.1,516.7L766.0,507.0L766.8,497.3L767.6,487.5L768.4,477.8L769.3,468.1L770.1,458.5L770.9,449.1M761.9,942.8L768.6,943.3L776.5,943.9L784.4,944.4L792.3,944.9L800.3,945.4L808.2,945.9L816.1,946.3L824.0,946.8L832.0,947.2L839.9,947.6L847.8,947.9L855.7,948.3L855.3,958.2L854.9,968.1L854.5,978.0L854.1,987.9L853.6,997.8L853.2,1007.7L852.8,1017.6L852.5,1024.3L852.5,1025.0L852.6,1025.1L853.5,1025.7L856.8,1027.6L861.8,1032.2L868.5,1032.2L871.5,1030.2L877.1,1034.8L878.1,1039.8L885.1,1040.2L891.0,1043.2L896.8,1041.8L902.2,1045.2L904.3,1042.2L911.0,1043.2L913.5,1049.3L916.8,1053.5L921.0,1054.8L926.5,1049.8L931.0,1053.5L933.5,1053.2L936.9,1056.5L941.5,1053.5L942.7,1059.8L950.2,1051.5L952.7,1055.2L958.6,1055.5L961.1,1054.3L961.6,1056.5L968.6,1060.7L974.9,1059.3L976.1,1056.5L985.2,1056.0L994.4,1052.7L996.1,1054.3L1000.0,1055.1L1007.5,1052.3L1015.0,1057.6L1021.7,1060.9L1029.2,1063.4L1030.2,1064.1M761.9,942.8L762.6,932.9L763.4,923.0L763.4,923.0M763.4,923.0L765.1,923.2L772.9,923.7L780.8,924.3L788.6,924.8L793.1,925.1M793.1,925.1L793.1,925.1L796.4,925.3L804.3,925.8L812.1,926.2L820.0,926.7L827.8,927.1L835.6,927.5L843.5,927.9L851.3,928.2L859.2,928.5L867.0,928.9L874.8,929.1L882.7,929.4L890.5,929.7L898.4,929.9L906.2,930.1L914.1,930.3L921.9,930.5L929.8,930.6L937.6,930.7L945.5,930.8L953.3,930.9L961.2,931.0L969.0,931.0L976.9,931.0L984.7,931.0L992.5,931.0L1000.4,931.0L1008.2,930.9L1016.1,930.8L1023.9,930.7L1024.0,930.7M793.1,925.1L793.7,915.2L794.3,905.3L794.9,895.4L795.5,885.4L796.2,875.5L796.8,865.6L797.4,855.7L798.0,845.8L798.7,835.9L799.3,826.0L799.9,816.1L800.5,806.2L800.5,806.1M1001.4,811.9L995.8,811.9L988.3,811.9L980.8,811.9L973.2,811.9L965.7,811.9L958.2,811.8L950.7,811.8L943.2,811.7L935.7,811.6L928.1,811.4L920.6,811.3L913.1,811.1L905.6,810.9L898.1,810.7L890.6,810.4L883.0,810.2L875.5,809.9L868.0,809.6L860.5,809.3L853.0,809.0L845.5,808.6L838.0,808.3L830.5,807.9L823.0,807.4L815.5,807.0L808.0,806.6L800.5,806.1M949.0,457.8L950.9,464.4L951.9,470.6L950.5,474.8L950.9,487.2L953.0,497.6L956.1,505.9L957.7,513.2L958.6,528.8L959.8,543.3L960.6,553.7L964.0,562.0L965.0,570.3L965.4,577.4M965.4,577.4L965.4,577.5L965.4,577.6L964.0,583.8L961.3,586.9L957.5,589.4L960.2,595.2L963.3,599.4L968.0,601.4L968.1,601.5L968.4,603.6L968.4,604.6L968.4,610.8L968.3,621.2L968.3,631.6L968.2,642.0L968.2,652.4L968.1,662.9L968.1,673.3M1116.1,669.9L1109.8,670.3L1102.5,670.6L1095.2,670.9L1087.9,671.2L1080.5,671.5L1073.2,671.8L1065.9,672.0L1058.6,672.2L1051.2,672.4L1043.9,672.6L1036.6,672.8L1029.3,672.9L1021.9,673.0L1014.6,673.1L1007.3,673.2L1000.0,673.3L992.6,673.3L985.3,673.3L978.0,673.3L970.7,673.3L968.1,673.3L968.1,673.3M968.1,673.3L964.0,673.3L964.0,673.3L965.4,678.3L964.8,683.5L967.5,689.7L965.4,697.0L962.3,703.6L966.0,711.5L968.5,713.6M968.5,713.6L969.6,719.8L971.7,728.1L975.8,734.4L977.9,740.6L977.3,745.8L978.9,751.0L982.0,755.1L982.7,759.9L982.9,763.4L984.3,770.1L985.9,776.7L984.3,782.1L986.8,786.8L987.8,788.0L988.3,788.7M988.3,788.7L988.4,788.9L990.9,795.1L993.4,800.9L997.6,806.8L1000.9,811.4L1001.4,811.9M988.3,788.7L994.4,788.7L1001.9,788.5L1009.5,788.4L1017.0,788.3L1024.6,788.1L1032.1,787.9L1039.7,787.7L1047.2,787.5L1054.8,787.2L1062.3,786.9L1069.9,786.7L1077.4,786.3L1084.9,786.0L1092.5,785.7L1100.0,785.3L1106.9,784.9L1106.9,785.1L1107.4,785.3L1107.7,785.4L1111.9,790.1L1115.7,794.3M1024.0,930.7L1024.0,929.6L1023.9,919.0L1023.7,908.5L1023.6,898.0L1023.5,887.5L1023.4,876.9L1023.3,866.4L1023.1,855.9L1023.0,845.5L1023.0,845.4L1023.3,845.0L1023.1,844.8L1018.5,843.8L1015.1,839.3L1011.4,834.3L1007.6,830.5L1010.9,825.1L1014.8,819.3L1010.9,815.9L1008.4,817.6L1005.9,815.9L1002.5,812.8L1001.4,811.9M1024.0,930.7L1024.1,940.1L1024.2,950.6M1024.2,950.6L1025.9,961.6L1027.5,972.6L1029.2,983.6L1030.8,994.5L1030.7,1004.6L1030.6,1014.6L1030.6,1024.6L1030.5,1034.6L1030.4,1044.7L1030.3,1054.7L1030.2,1064.1M1178.1,964.4L1158.0,965.6L1161.7,958.6L1165.9,954.4L1166.4,949.4L1163.9,947.1L1162.0,945.5L1159.7,945.6L1157.7,945.7L1149.9,946.2L1142.0,946.6L1134.2,947.0L1126.3,947.4L1118.5,947.8L1110.6,948.1L1102.8,948.5L1094.9,948.8L1087.1,949.1L1079.2,949.3L1071.4,949.6L1063.5,949.8L1055.7,950.0L1047.8,950.2L1039.9,950.3L1032.1,950.5L1024.2,950.6M1030.2,1064.1L1030.5,1064.3L1034.2,1066.8L1038.4,1065.4L1044.2,1066.8L1044.4,1066.8L1044.6,1066.9L1044.6,1067.1L1044.8,1076.6L1045.0,1087.1L1045.0,1088.2M1045.0,1088.2L1045.2,1097.7L1045.5,1108.2L1045.7,1118.8L1045.7,1122.7L1045.8,1124.7L1046.7,1129.1L1046.7,1129.3L1050.9,1134.3L1053.7,1140.2L1053.1,1144.4L1057.6,1151.9L1060.4,1159.4L1063.4,1161.9L1064.2,1166.9L1061.7,1175.2L1057.6,1184.4L1058.1,1193.6L1058.7,1201.1L1057.6,1205.2L1051.7,1215.3L1054.0,1218.3M1045.0,1088.2L1053.8,1088.1L1062.6,1087.9L1071.3,1087.7L1080.1,1087.5L1088.9,1087.3L1097.6,1087.0L1106.4,1086.7L1115.1,1086.4L1123.9,1086.1L1132.7,1085.7L1139.3,1085.4M1116.1,669.9L1116.0,669.6L1115.0,659.6L1112.9,654.4L1108.7,650.3L1101.5,646.1L1096.3,642.0L1094.2,637.8L1085.9,633.6L1082.8,630.1L1077.6,629.1L1073.4,625.3L1069.9,622.2L1070.7,616.0L1069.9,609.8L1071.3,599.4L1073.4,595.2L1070.3,592.1L1066.1,586.9L1067.2,583.8L1070.3,577.6L1074.5,574.5L1080.3,572.0L1081.3,566.1L1081.7,557.8L1082.3,545.4L1085.7,543.4M1115.7,794.3L1114.4,800.1L1115.2,806.8L1119.4,817.6L1120.0,819.2L1130.0,828.4L1140.0,838.4L1141.7,846.8L1145.0,851.4L1149.2,848.1L1155.0,850.1L1158.7,854.3L1155.9,863.5L1153.4,871.8L1153.4,877.6L1158.4,882.6L1163.4,886.8L1167.5,889.8L1169.2,888.5L1175.1,892.7L1180.1,896.8L1180.9,902.7L1183.4,907.7L1182.6,912.7L1184.2,916.8L1186.7,921.0L1189.2,923.2L1193.4,924.0M1135.6,708.2L1135.7,708.4L1142.0,716.7L1147.1,721.9L1150.3,724.0L1150.9,730.2L1148.2,736.4L1146.1,745.8L1134.7,749.9L1126.4,752.0L1125.3,759.9L1129.4,765.9L1128.9,771.7L1126.1,775.9L1124.4,781.4L1118.6,784.3L1116.9,790.1L1115.7,794.3M1135.6,708.2L1135.3,707.8L1132.6,703.6L1128.5,702.2L1123.3,699.1L1120.1,692.8L1118.5,686.6L1121.2,679.3L1117.0,675.2L1116.1,670.1L1116.1,669.9M1133.9,548.7L1138.8,552.6L1140.9,556.8L1155.5,559.9L1170.0,563.0L1177.3,566.1L1186.6,567.8L1197.0,569.9L1199.1,574.0L1205.3,576.5L1207.0,580.7L1206.3,589.0L1210.5,590.0L1211.1,597.1M1215.4,703.1L1209.9,703.5L1202.4,704.1L1194.9,704.6L1187.3,705.1L1179.8,705.6L1172.3,706.1L1164.8,706.6L1157.2,707.0L1149.7,707.5L1142.2,707.9L1135.6,708.2M1197.6,1192.5L1195.2,1186.9L1192.7,1181.1L1188.5,1174.4L1190.2,1168.5L1191.0,1161.7L1182.4,1162.3L1173.0,1162.9L1163.6,1163.4L1154.2,1164.0L1144.8,1164.4L1135.4,1164.9L1127.1,1165.3L1127.1,1165.2L1127.6,1159.4L1129.8,1154.4L1131.0,1143.5L1135.1,1139.3L1134.3,1136.0L1141.0,1128.5L1146.0,1120.2L1142.1,1116.5L1146.8,1116.0L1149.3,1111.5L1145.1,1108.5L1141.8,1105.1L1143.5,1101.8L1141.0,1099.3L1139.8,1093.5L1139.3,1085.5L1139.3,1085.4M1139.3,1085.4L1139.5,1084.8L1141.5,1076.8L1139.3,1070.9L1136.0,1064.3L1136.0,1060.1L1141.0,1057.6L1140.1,1046.8L1146.0,1043.4L1144.3,1039.2L1147.6,1033.4L1151.8,1030.1L1153.4,1030.0L1155.0,1026.1L1154.2,1021.9L1155.9,1018.6L1160.0,1011.9L1162.9,1006.0L1163.0,1005.6L1163.1,1005.1M1163.1,1005.1L1163.4,1002.8L1165.9,995.3L1168.4,988.6L1169.2,983.6L1173.4,981.9L1172.6,976.1L1175.9,974.4L1177.6,968.6L1180.9,966.9L1178.1,964.4M1230.4,1000.3L1230.3,1000.3L1227.2,1000.5L1219.0,1001.2L1210.7,1001.9L1202.5,1002.5L1194.2,1003.1L1186.0,1003.7L1177.8,1004.2L1169.5,1004.7L1163.1,1005.1M1178.1,964.4L1180.9,956.9L1183.4,950.2L1183.1,943.9L1186.7,943.2M1193.4,924.0L1195.1,930.2L1193.4,936.9L1189.2,938.5L1186.7,943.2M1186.7,943.2L1228.8,940.2L1228.4,933.5L1240.1,934.4L1270.2,930.7L1303.5,927.4L1336.9,924.9L1365.2,921.5M1193.4,924.0L1192.6,921.0L1196.7,914.3L1199.2,913.5L1212.6,919.3L1215.4,916.0L1212.1,910.2L1215.1,906.0L1225.4,900.5L1222.6,897.7L1222.1,894.8L1225.9,887.6L1224.3,885.5M1224.3,885.5L1223.4,883.5L1225.1,873.5L1225.4,871.0L1229.3,869.3L1235.1,858.5L1238.5,852.6L1236.8,844.3L1232.1,834.3L1234.4,827.8L1234.8,826.8L1234.4,823.4L1235.4,823.3L1234.9,817.5L1234.0,806.6L1233.0,795.7L1232.0,784.8L1231.1,773.9L1230.1,763.0L1229.2,752.1L1228.2,741.3L1227.5,733.0M1224.3,885.5L1228.4,885.1L1242.6,881.8L1254.8,886.5L1256.8,881.8L1261.5,877.6L1267.6,883.5L1271.8,873.5L1276.0,869.3L1279.3,873.5L1287.7,875.1L1289.3,871.8L1290.2,866.8L1296.8,858.5L1301.8,852.6L1301.0,845.9L1307.7,845.1L1314.4,840.9L1319.4,839.3L1318.5,835.1L1317.7,829.9L1318.3,829.8L1318.0,827.5M1230.4,1000.3L1232.7,1003.7L1232.4,1030.1L1231.6,1076.8L1230.7,1120.2L1233.6,1143.5L1236.1,1168.5L1237.7,1182.4M1312.3,992.3L1309.4,992.7L1301.2,993.5L1293.0,994.4L1284.8,995.3L1276.5,996.1L1268.3,996.9L1260.1,997.7L1251.9,998.4L1243.6,999.1L1235.4,999.9L1230.4,1000.3M1306.4,725.5L1306.1,723.0L1298.2,723.9L1290.4,724.8L1282.5,725.7L1274.6,726.5L1266.8,727.4L1258.9,728.2L1251.1,729.0L1248.2,729.2M1268.7,1182.4L1270.3,1175.2L1269.4,1166.9L1263.6,1162.7L1262.8,1156.5L1262.8,1156.3L1271.6,1155.5L1280.3,1154.7L1289.1,1153.8L1297.9,1152.9L1306.6,1152.0L1315.4,1151.1L1324.1,1150.2L1332.9,1149.2L1341.6,1148.2L1349.2,1147.3M1318.0,827.5L1317.1,819.1L1315.8,808.4L1314.6,797.7L1313.4,787.0L1312.2,776.4L1311.0,765.7L1309.7,755.0L1308.5,744.3L1307.3,733.7L1306.4,725.5M1306.4,725.5L1306.4,725.5L1314.5,724.2L1322.6,722.9L1330.6,721.6L1338.7,720.2L1345.3,719.1M1349.2,1147.3L1347.0,1143.5L1344.7,1136.8L1345.4,1128.5L1341.4,1116.8L1343.4,1110.2L1342.5,1102.6L1346.7,1098.5L1341.7,1088.5L1334.2,1073.4L1312.5,993.4L1312.3,992.5L1312.3,992.3M1352.2,987.6L1352.2,987.7L1350.4,987.9L1342.2,988.9L1334.0,989.9L1325.8,990.8L1317.6,991.7L1312.3,992.3M1388.6,845.4L1380.3,840.1L1376.9,834.3L1368.6,840.9L1358.6,838.4L1353.6,841.8L1345.2,837.6L1336.9,835.9L1331.9,829.3L1326.9,826.8L1318.0,827.5M1469.5,1142.7L1460.2,1142.2L1453.5,1140.5L1449.3,1144.4L1451.0,1150.2L1451.0,1158.9L1446.8,1159.4L1444.3,1151.9L1355.1,1158.2L1349.7,1148.2L1349.5,1147.7L1349.2,1147.3M1426.5,914.4L1426.1,921.0L1420.3,927.7L1417.0,934.4L1412.8,933.2L1409.5,937.7L1405.3,941.0L1401.9,939.4L1393.6,944.4L1391.1,950.2L1385.3,952.7L1377.8,960.2L1374.4,961.9L1366.9,964.4L1361.9,969.4L1360.2,975.2L1352.2,979.9L1352.2,987.6M1390.0,982.7L1383.2,983.6L1375.0,984.7L1366.8,985.8L1358.6,986.9L1352.2,987.6M1365.2,921.5L1366.9,920.2L1376.9,914.3L1381.9,909.3L1386.9,906.0L1388.6,901.8L1393.6,895.2L1403.6,886.8L1412.0,877.6M1426.5,914.4L1426.6,912.7L1395.3,917.2L1365.2,921.5M1412.0,877.6L1403.6,874.3L1396.9,867.6L1388.3,856.8L1388.6,845.4M1388.6,845.4L1396.1,843.4L1396.6,840.1L1396.3,839.9L1399.4,828.9L1404.6,826.8L1408.7,822.7L1409.8,812.3L1417.0,802.5L1420.1,804.0L1429.5,795.7L1432.6,785.3L1435.7,770.8L1436.8,762.5L1434.3,752.1L1433.6,750.0L1436.3,746.4M1480.2,1088.0L1471.8,1085.1L1470.2,1078.5L1464.3,1070.9L1460.2,1068.4L1458.5,1063.4L1456.0,1056.8L1451.0,1050.9L1445.1,1046.8L1438.1,1041.7L1437.6,1037.6L1431.8,1033.4L1427.0,1030.0L1413.6,1020.3L1407.0,1011.9L1401.1,1002.8L1393.6,1001.1L1384.4,994.4L1390.0,982.7M1390.0,982.7L1390.3,982.2L1391.0,981.8L1403.6,975.2L1413.6,971.6L1414.0,971.3L1454.5,966.9L1460.7,969.8L1464.6,978.3L1500.5,973.2L1542.3,1003.4M1527.7,786.0L1526.2,793.7L1509.0,784.4L1508.3,794.5L1504.4,802.3L1499.7,808.5L1497.4,814.0L1493.5,811.7L1490.3,824.1L1487.2,830.3L1481.0,827.2L1475.5,825.4L1476.0,831.9L1472.4,839.7L1468.5,849.0L1463.9,858.4L1462.3,863.8L1464.6,866.5L1463.1,870.1L1458.4,874.7L1455.3,873.2L1452.2,877.1L1446.7,876.8L1446.0,881.0L1437.4,886.1L1431.9,882.5L1426.5,888.0L1420.2,887.2L1414.8,883.3L1412.5,877.9L1412.0,877.6M1605.5,882.6L1600.2,883.7L1592.1,885.4L1584.1,887.1L1576.1,888.8L1568.0,890.4L1560.0,892.1L1551.9,893.7L1543.8,895.2L1535.8,896.8L1527.7,898.3L1519.6,899.8L1511.6,901.3L1503.5,902.8L1495.4,904.2L1487.3,905.7L1479.2,907.1L1470.5,908.4L1461.9,909.6L1453.2,910.9L1444.5,912.1L1435.8,913.3L1427.2,914.4L1426.5,914.4M1436.3,746.4L1436.3,745.9L1436.1,744.8L1434.4,734.7L1432.8,724.6L1431.1,714.4L1429.4,704.3L1428.3,697.4M1436.3,746.4L1437.8,754.9L1439.4,765.1L1441.1,775.2L1442.7,785.3L1450.5,784.0L1458.3,782.7L1466.1,781.4L1473.6,780.1M1448.0,682.1L1449.8,692.5L1457.2,691.2L1464.7,689.9L1472.1,688.6L1479.5,687.2L1487.0,685.8L1494.4,684.4L1501.8,683.0L1509.3,681.6L1516.7,680.1L1524.1,678.6L1531.5,677.1L1538.9,675.6L1546.3,674.1L1553.7,672.5L1561.1,670.9L1568.5,669.3L1572.8,668.4L1572.8,668.6L1573.8,668.4L1575.3,669.1L1580.0,671.3L1584.1,674.4L1585.7,679.1L1589.8,683.2L1595.5,685.8L1598.6,687.3L1598.6,688.9M1473.6,780.1L1476.3,800.0L1484.9,788.3L1490.3,786.7L1493.5,782.1L1504.4,781.7L1507.5,776.6L1511.4,774.6L1516.0,776.6L1521.5,775.8L1524.6,781.3L1527.7,786.0M1582.4,758.8L1574.8,760.4L1567.1,762.1L1559.3,763.7L1551.6,765.3L1543.8,766.8L1536.1,768.4L1528.3,769.9L1520.6,771.4L1512.8,772.9L1505.0,774.4L1497.3,775.8L1489.5,777.2L1481.7,778.6L1473.9,780.0L1473.6,780.1L1473.6,780.1M1527.7,786.0L1532.4,786.7L1537.1,789.8L1537.9,793.7L1543.3,794.8L1550.2,798.8M1550.4,799.0L1551.9,802.3L1551.1,807.0L1548.0,813.2L1547.2,816.3L1548.7,820.4M1550.2,798.8L1549.8,798.4L1552.3,795.8L1555.0,798.4L1552.3,801.2L1550.4,799.0M1582.4,758.8L1582.2,759.0L1595.2,807.6L1613.9,803.4M1592.4,752.5L1591.3,754.3L1587.7,753.7L1584.6,755.6L1582.4,758.7L1582.4,758.8M1588.8,760.6L1592.4,752.5M1598.6,688.9L1595.5,694.6L1592.9,701.3L1590.9,706.5L1593.5,709.6L1590.9,713.8L1591.4,719.5L1595.5,722.0L1597.1,726.7L1608.5,735.5L1602.3,741.7L1599.7,747.9L1592.4,753.6L1592.4,752.5M1623.5,709.8L1625.0,697.2L1598.6,688.9M1600.6,824.8L1611.5,821.7M1627.1,625.7L1625.6,619.0L1623.5,610.7L1621.4,601.4L1619.9,594.7L1620.1,595.1L1613.5,584.7L1609.8,576.4L1610.8,570.2L1609.8,561.9L1605.6,549.5L1603.0,540.5M1627.1,625.7L1626.6,633.5L1627.1,653.2M1648.4,620.6L1627.1,625.7M1627.1,653.2L1628.7,661.5L1631.3,673.9L1632.8,681.1L1634.9,684.8L1629.2,691.0L1631.1,694.3M1675.3,643.9L1627.1,653.2M1652.9,527.0L1654.3,532.9L1652.7,538.1L1655.3,543.3L1654.3,548.5L1650.2,553.6L1645.6,559.4L1647.1,566.1L1646.0,578.5L1642.9,587.8L1644.0,597.1L1644.7,599.3L1646.3,608.6L1645.2,613.8L1646.8,618.0L1648.4,620.6M1693.6,603.5L1691.3,604.0L1687.7,607.6L1684.6,610.7L1682.0,613.3L1648.4,620.6M1661.2,512.9L1684.3,582.6L1687.4,586.8L1689.5,591.9L1692.6,594.0L1693.4,594.4M1680.9,669.4L1675.3,643.9M1675.3,643.9L1683.6,640.7L1686.7,641.3L1688.7,645.9L1690.7,649.8M1696.2,653.2L1698.9,657.1" fill="none" stroke="#fff" stroke-width="1.0" stroke-linejoin="round" stroke-linecap="round" stroke-opacity="1.0"/>
<path d="M1563.1,833.1L1575.9,843.2L1582.2,844.4L1582.2,846.3L1575.7,844.4Z" fill="#fff"/>
<path d="M1615.7,902.0L1608.7,895.8L1598.6,895.0L1595.5,902.0L1589.3,907.4L1583.5,899.2L1581.9,902.8L1585.4,910.9L1594.7,908.5L1605.6,905.7L1607.9,916.3L1609.8,906.4L1615.7,902.8Z" fill="#fff"/>
<path d="M177.0,786.0L180.5,775.2L183.6,774.1L185.7,778.3L181.5,781.4L182.6,787.6L180.5,789.7L184.7,798.0L185.7,803.2L181.5,799.0L177.8,791.8L175.3,787.6Z" fill="#fff"/>
<path d="M281.9,403.8L277.0,408.7L273.5,409.8L268.9,412.7" fill="none" stroke="#fff" stroke-width="1"/>
<path d="M278.1,425.4L272.6,431.1L269.5,427.1L268.9,424.8L271.8,421.9" fill="none" stroke="#fff" stroke-width="1"/></g>
<rect x="60" y="1234" width="26" height="200" fill="url(#lg)"/>
<g transform="translate(0,0.8)"><path d="M1590.4,1523.5 C1591,1516 1594,1510.5 1599.5,1508.5 C1605,1506.8 1611,1507.2 1616.3,1505.3 C1634,1497 1652,1487.8 1673.5,1487.6 C1693,1487.4 1708,1495.5 1726.7,1506.6 C1738,1510.8 1750,1510.5 1761.7,1511.2 C1767,1512.5 1769,1518 1769.8,1526 C1768,1519.5 1766,1514.5 1761,1513.6 C1749,1513.2 1737,1513.5 1725.5,1509.4 C1708,1500 1693,1493.6 1673.5,1493.2 C1653,1493 1636,1501.5 1618,1509 C1612,1511 1606,1510.5 1600.5,1511.8 C1595.5,1513.5 1592.5,1517.5 1590.4,1523.5Z" fill="#f9605c"/>
<path d="M1633.2,1514.3 C1633.5,1510.5 1634.5,1509 1636.5,1508.4 C1639.5,1507.6 1642,1508.6 1645,1507.2 C1653,1502.5 1660,1498.6 1669.6,1498.4 C1679,1498.4 1686,1503 1692.9,1506.5 C1698.5,1508 1704,1507.8 1709.5,1508.6 C1711.8,1509.4 1712.2,1512 1712.5,1515" fill="none" stroke="#2f3a5f" stroke-width="1.35" stroke-linecap="round"/></g>
</svg>
<div class="abs" id="legt">Avg Rate</div>
<div class="abs legl" style="left:93px;top:1230px">$117</div>
<div class="abs legl" style="left:93px;top:1406px">$57</div>
<div class="abs" id="logot"><b>Car</b>Insurance.org</div>
<div class="abs" id="foot">Map: CarInsurance.org &bull; Source: NAIC</div>
<div class="rule" style="top:1654px"></div>
</body></html>
